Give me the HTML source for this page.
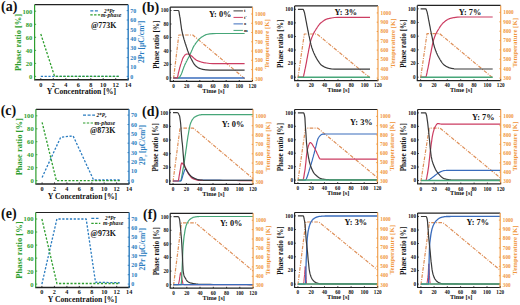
<!DOCTYPE html>
<html><head><meta charset="utf-8"><style>
html,body{margin:0;padding:0;background:#fff;width:520px;height:305px;overflow:hidden}
svg{display:block}
text{font-family:"Liberation Serif",serif;font-weight:bold}
</style></head><body>
<svg width="520" height="305" viewBox="0 0 520 305"><polyline points="40.8,76.4 118.8,76.4" fill="none" stroke="#2a7cc0" stroke-width="1.3" stroke-linejoin="round" stroke-dasharray="2.2,1.6"/>
<polyline points="40.8,34 54.6,76.4 118.8,76.4" fill="none" stroke="#2e9e2e" stroke-width="1.3" stroke-linejoin="round" stroke-dasharray="2.2,1.6"/>
<line x1="34.6" y1="4.7" x2="128.2" y2="4.7" stroke="#222" stroke-width="1.2"/>
<line x1="34.1" y1="79.7" x2="128.2" y2="79.7" stroke="#222" stroke-width="1.5"/>
<line x1="34.6" y1="4.7" x2="34.6" y2="79.7" stroke="#2e9e2e" stroke-width="1.2"/>
<line x1="128.2" y1="4.7" x2="128.2" y2="80.4" stroke="#2a7cc0" stroke-width="1.4"/>
<line x1="34.6" y1="76.4" x2="36.1" y2="76.4" stroke="#2e9e2e" stroke-width="0.9"/>
<text x="32.4" y="78.8" font-size="6.6" fill="#2e9e2e" text-anchor="end" style="font-family:'Liberation Serif',serif;font-weight:bold">0</text>
<line x1="34.6" y1="63.4" x2="36.1" y2="63.4" stroke="#2e9e2e" stroke-width="0.9"/>
<text x="32.4" y="65.8" font-size="6.6" fill="#2e9e2e" text-anchor="end" style="font-family:'Liberation Serif',serif;font-weight:bold">20</text>
<line x1="34.6" y1="50.4" x2="36.1" y2="50.4" stroke="#2e9e2e" stroke-width="0.9"/>
<text x="32.4" y="52.8" font-size="6.6" fill="#2e9e2e" text-anchor="end" style="font-family:'Liberation Serif',serif;font-weight:bold">40</text>
<line x1="34.6" y1="37.3" x2="36.1" y2="37.3" stroke="#2e9e2e" stroke-width="0.9"/>
<text x="32.4" y="39.7" font-size="6.6" fill="#2e9e2e" text-anchor="end" style="font-family:'Liberation Serif',serif;font-weight:bold">60</text>
<line x1="34.6" y1="24.3" x2="36.1" y2="24.3" stroke="#2e9e2e" stroke-width="0.9"/>
<text x="32.4" y="26.7" font-size="6.6" fill="#2e9e2e" text-anchor="end" style="font-family:'Liberation Serif',serif;font-weight:bold">80</text>
<line x1="34.6" y1="11.2" x2="36.1" y2="11.2" stroke="#2e9e2e" stroke-width="0.9"/>
<text x="32.4" y="13.6" font-size="6.6" fill="#2e9e2e" text-anchor="end" style="font-family:'Liberation Serif',serif;font-weight:bold">100</text>
<line x1="126.7" y1="76.4" x2="128.2" y2="76.4" stroke="#2a7cc0" stroke-width="0.9"/>
<text x="130.2" y="78.5" font-size="6" fill="#2a7cc0" text-anchor="start" style="font-family:'Liberation Serif',serif;font-weight:bold">0</text>
<line x1="126.7" y1="67" x2="128.2" y2="67" stroke="#2a7cc0" stroke-width="0.9"/>
<text x="130.2" y="69.1" font-size="6" fill="#2a7cc0" text-anchor="start" style="font-family:'Liberation Serif',serif;font-weight:bold">10</text>
<line x1="126.7" y1="57.6" x2="128.2" y2="57.6" stroke="#2a7cc0" stroke-width="0.9"/>
<text x="130.2" y="59.7" font-size="6" fill="#2a7cc0" text-anchor="start" style="font-family:'Liberation Serif',serif;font-weight:bold">20</text>
<line x1="126.7" y1="48.2" x2="128.2" y2="48.2" stroke="#2a7cc0" stroke-width="0.9"/>
<text x="130.2" y="50.3" font-size="6" fill="#2a7cc0" text-anchor="start" style="font-family:'Liberation Serif',serif;font-weight:bold">30</text>
<line x1="126.7" y1="38.8" x2="128.2" y2="38.8" stroke="#2a7cc0" stroke-width="0.9"/>
<text x="130.2" y="40.9" font-size="6" fill="#2a7cc0" text-anchor="start" style="font-family:'Liberation Serif',serif;font-weight:bold">40</text>
<line x1="126.7" y1="29.4" x2="128.2" y2="29.4" stroke="#2a7cc0" stroke-width="0.9"/>
<text x="130.2" y="31.5" font-size="6" fill="#2a7cc0" text-anchor="start" style="font-family:'Liberation Serif',serif;font-weight:bold">50</text>
<line x1="126.7" y1="20" x2="128.2" y2="20" stroke="#2a7cc0" stroke-width="0.9"/>
<text x="130.2" y="22.1" font-size="6" fill="#2a7cc0" text-anchor="start" style="font-family:'Liberation Serif',serif;font-weight:bold">60</text>
<line x1="126.7" y1="10.6" x2="128.2" y2="10.6" stroke="#2a7cc0" stroke-width="0.9"/>
<text x="130.2" y="12.7" font-size="6" fill="#2a7cc0" text-anchor="start" style="font-family:'Liberation Serif',serif;font-weight:bold">70</text>
<line x1="40.8" y1="79.7" x2="40.8" y2="78.2" stroke="#222" stroke-width="0.9"/>
<text x="40.8" y="86.5" font-size="6.2" fill="#111" text-anchor="middle" style="font-family:'Liberation Serif',serif;font-weight:bold">0</text>
<line x1="53.3" y1="79.7" x2="53.3" y2="78.2" stroke="#222" stroke-width="0.9"/>
<text x="53.3" y="86.5" font-size="6.2" fill="#111" text-anchor="middle" style="font-family:'Liberation Serif',serif;font-weight:bold">2</text>
<line x1="65.8" y1="79.7" x2="65.8" y2="78.2" stroke="#222" stroke-width="0.9"/>
<text x="65.8" y="86.5" font-size="6.2" fill="#111" text-anchor="middle" style="font-family:'Liberation Serif',serif;font-weight:bold">4</text>
<line x1="78.3" y1="79.7" x2="78.3" y2="78.2" stroke="#222" stroke-width="0.9"/>
<text x="78.3" y="86.5" font-size="6.2" fill="#111" text-anchor="middle" style="font-family:'Liberation Serif',serif;font-weight:bold">6</text>
<line x1="90.8" y1="79.7" x2="90.8" y2="78.2" stroke="#222" stroke-width="0.9"/>
<text x="90.8" y="86.5" font-size="6.2" fill="#111" text-anchor="middle" style="font-family:'Liberation Serif',serif;font-weight:bold">8</text>
<line x1="103.2" y1="79.7" x2="103.2" y2="78.2" stroke="#222" stroke-width="0.9"/>
<text x="103.2" y="86.5" font-size="6.2" fill="#111" text-anchor="middle" style="font-family:'Liberation Serif',serif;font-weight:bold">10</text>
<line x1="115.7" y1="79.7" x2="115.7" y2="78.2" stroke="#222" stroke-width="0.9"/>
<text x="115.7" y="86.5" font-size="6.2" fill="#111" text-anchor="middle" style="font-family:'Liberation Serif',serif;font-weight:bold">12</text>
<line x1="128.2" y1="79.7" x2="128.2" y2="78.2" stroke="#222" stroke-width="0.9"/>
<text x="128.2" y="86.5" font-size="6.2" fill="#111" text-anchor="middle" style="font-family:'Liberation Serif',serif;font-weight:bold">14</text>
<text x="21" y="42.4" font-size="8.5" fill="#2e9e2e" text-anchor="middle" transform="rotate(-90 21 42.4)" style="font-family:'Liberation Serif',serif;font-weight:bold">Phase ratio [%]</text>
<text x="143.8" y="41.9" font-size="7.6" fill="#2a7cc0" text-anchor="middle" transform="rotate(-90 143.8 41.9)" style="font-family:'Liberation Serif',serif;font-weight:bold">2Pr [&#956;C/cm<tspan font-size="4.4" dy="-3.2">2</tspan><tspan dy="3.2">]</tspan></text>
<text x="81.4" y="94.3" font-size="7.7" fill="#111" text-anchor="middle" style="font-family:'Liberation Serif',serif;font-weight:bold">Y Concentration [%]</text>
<text x="1" y="11" font-size="14" fill="#111" text-anchor="start" style="font-family:'Liberation Serif',serif;font-weight:bold">(a)</text>
<line x1="90.3" y1="10.9" x2="98.5" y2="10.9" stroke="#2a7cc0" stroke-width="1.2" stroke-dasharray="3,1.6"/>
<line x1="90.3" y1="14.9" x2="100.3" y2="14.9" stroke="#2e9e2e" stroke-width="1.2" stroke-dasharray="2.4,1.4"/>
<text x="104" y="12.7" font-size="5.3" fill="#111" style="font-family:'Liberation Serif',serif;font-weight:bold;font-style:italic">2*Pr</text>
<text x="101" y="16.5" font-size="5.8" fill="#111" style="font-family:'Liberation Serif',serif;font-weight:bold;font-style:italic">m-phase</text>
<text x="91" y="27.6" font-size="7.9" fill="#111" text-anchor="start" style="font-family:'Liberation Serif',serif;font-weight:bold">@773K</text>
<polyline points="42.1,177.4 60.7,137.2 73.1,135.9 93.6,180 119.7,180" fill="none" stroke="#2a7cc0" stroke-width="1.3" stroke-linejoin="round" stroke-dasharray="2.2,1.6"/>
<polyline points="42.1,122.3 56.4,180.7 119.7,180.7" fill="none" stroke="#2e9e2e" stroke-width="1.3" stroke-linejoin="round" stroke-dasharray="2.2,1.6"/>
<line x1="35.9" y1="109.3" x2="129" y2="109.3" stroke="#222" stroke-width="1.2"/>
<line x1="35.4" y1="183.9" x2="129" y2="183.9" stroke="#222" stroke-width="1.5"/>
<line x1="35.9" y1="109.3" x2="35.9" y2="183.9" stroke="#2e9e2e" stroke-width="1.2"/>
<line x1="129" y1="109.3" x2="129" y2="184.6" stroke="#2a7cc0" stroke-width="1.4"/>
<line x1="35.9" y1="180.7" x2="37.4" y2="180.7" stroke="#2e9e2e" stroke-width="0.9"/>
<text x="33.7" y="183.1" font-size="6.6" fill="#2e9e2e" text-anchor="end" style="font-family:'Liberation Serif',serif;font-weight:bold">0</text>
<line x1="35.9" y1="167.7" x2="37.4" y2="167.7" stroke="#2e9e2e" stroke-width="0.9"/>
<text x="33.7" y="170.1" font-size="6.6" fill="#2e9e2e" text-anchor="end" style="font-family:'Liberation Serif',serif;font-weight:bold">20</text>
<line x1="35.9" y1="154.7" x2="37.4" y2="154.7" stroke="#2e9e2e" stroke-width="0.9"/>
<text x="33.7" y="157.1" font-size="6.6" fill="#2e9e2e" text-anchor="end" style="font-family:'Liberation Serif',serif;font-weight:bold">40</text>
<line x1="35.9" y1="141.7" x2="37.4" y2="141.7" stroke="#2e9e2e" stroke-width="0.9"/>
<text x="33.7" y="144.1" font-size="6.6" fill="#2e9e2e" text-anchor="end" style="font-family:'Liberation Serif',serif;font-weight:bold">60</text>
<line x1="35.9" y1="128.8" x2="37.4" y2="128.8" stroke="#2e9e2e" stroke-width="0.9"/>
<text x="33.7" y="131.2" font-size="6.6" fill="#2e9e2e" text-anchor="end" style="font-family:'Liberation Serif',serif;font-weight:bold">80</text>
<line x1="35.9" y1="115.8" x2="37.4" y2="115.8" stroke="#2e9e2e" stroke-width="0.9"/>
<text x="33.7" y="118.2" font-size="6.6" fill="#2e9e2e" text-anchor="end" style="font-family:'Liberation Serif',serif;font-weight:bold">100</text>
<line x1="127.5" y1="180.7" x2="129" y2="180.7" stroke="#2a7cc0" stroke-width="0.9"/>
<text x="131" y="182.8" font-size="6" fill="#2a7cc0" text-anchor="start" style="font-family:'Liberation Serif',serif;font-weight:bold">0</text>
<line x1="127.5" y1="171.3" x2="129" y2="171.3" stroke="#2a7cc0" stroke-width="0.9"/>
<text x="131" y="173.4" font-size="6" fill="#2a7cc0" text-anchor="start" style="font-family:'Liberation Serif',serif;font-weight:bold">10</text>
<line x1="127.5" y1="161.9" x2="129" y2="161.9" stroke="#2a7cc0" stroke-width="0.9"/>
<text x="131" y="164" font-size="6" fill="#2a7cc0" text-anchor="start" style="font-family:'Liberation Serif',serif;font-weight:bold">20</text>
<line x1="127.5" y1="152.6" x2="129" y2="152.6" stroke="#2a7cc0" stroke-width="0.9"/>
<text x="131" y="154.7" font-size="6" fill="#2a7cc0" text-anchor="start" style="font-family:'Liberation Serif',serif;font-weight:bold">30</text>
<line x1="127.5" y1="143.2" x2="129" y2="143.2" stroke="#2a7cc0" stroke-width="0.9"/>
<text x="131" y="145.3" font-size="6" fill="#2a7cc0" text-anchor="start" style="font-family:'Liberation Serif',serif;font-weight:bold">40</text>
<line x1="127.5" y1="133.9" x2="129" y2="133.9" stroke="#2a7cc0" stroke-width="0.9"/>
<text x="131" y="136" font-size="6" fill="#2a7cc0" text-anchor="start" style="font-family:'Liberation Serif',serif;font-weight:bold">50</text>
<line x1="127.5" y1="124.5" x2="129" y2="124.5" stroke="#2a7cc0" stroke-width="0.9"/>
<text x="131" y="126.6" font-size="6" fill="#2a7cc0" text-anchor="start" style="font-family:'Liberation Serif',serif;font-weight:bold">60</text>
<line x1="127.5" y1="115.1" x2="129" y2="115.1" stroke="#2a7cc0" stroke-width="0.9"/>
<text x="131" y="117.2" font-size="6" fill="#2a7cc0" text-anchor="start" style="font-family:'Liberation Serif',serif;font-weight:bold">70</text>
<line x1="42.1" y1="183.9" x2="42.1" y2="182.4" stroke="#222" stroke-width="0.9"/>
<text x="42.1" y="190.7" font-size="6.2" fill="#111" text-anchor="middle" style="font-family:'Liberation Serif',serif;font-weight:bold">0</text>
<line x1="54.5" y1="183.9" x2="54.5" y2="182.4" stroke="#222" stroke-width="0.9"/>
<text x="54.5" y="190.7" font-size="6.2" fill="#111" text-anchor="middle" style="font-family:'Liberation Serif',serif;font-weight:bold">2</text>
<line x1="66.9" y1="183.9" x2="66.9" y2="182.4" stroke="#222" stroke-width="0.9"/>
<text x="66.9" y="190.7" font-size="6.2" fill="#111" text-anchor="middle" style="font-family:'Liberation Serif',serif;font-weight:bold">4</text>
<line x1="79.3" y1="183.9" x2="79.3" y2="182.4" stroke="#222" stroke-width="0.9"/>
<text x="79.3" y="190.7" font-size="6.2" fill="#111" text-anchor="middle" style="font-family:'Liberation Serif',serif;font-weight:bold">6</text>
<line x1="91.8" y1="183.9" x2="91.8" y2="182.4" stroke="#222" stroke-width="0.9"/>
<text x="91.8" y="190.7" font-size="6.2" fill="#111" text-anchor="middle" style="font-family:'Liberation Serif',serif;font-weight:bold">8</text>
<line x1="104.2" y1="183.9" x2="104.2" y2="182.4" stroke="#222" stroke-width="0.9"/>
<text x="104.2" y="190.7" font-size="6.2" fill="#111" text-anchor="middle" style="font-family:'Liberation Serif',serif;font-weight:bold">10</text>
<line x1="116.6" y1="183.9" x2="116.6" y2="182.4" stroke="#222" stroke-width="0.9"/>
<text x="116.6" y="190.7" font-size="6.2" fill="#111" text-anchor="middle" style="font-family:'Liberation Serif',serif;font-weight:bold">12</text>
<line x1="129" y1="183.9" x2="129" y2="182.4" stroke="#222" stroke-width="0.9"/>
<text x="129" y="190.7" font-size="6.2" fill="#111" text-anchor="middle" style="font-family:'Liberation Serif',serif;font-weight:bold">14</text>
<text x="22.3" y="146.8" font-size="8.5" fill="#2e9e2e" text-anchor="middle" transform="rotate(-90 22.3 146.8)" style="font-family:'Liberation Serif',serif;font-weight:bold">Phase ratio [%]</text>
<text x="145.4" y="145" font-size="7.3" fill="#2a7cc0" text-anchor="middle" transform="rotate(-90 145.4 145)" style="font-family:'Liberation Serif',serif;font-weight:bold">2P<tspan font-size="4.6" dy="1.2">r</tspan><tspan dy="-1.2"> [&#956;C/cm</tspan><tspan font-size="4.4" dy="-3.2">2</tspan><tspan dy="3.2">]</tspan></text>
<text x="82.5" y="198.5" font-size="7.7" fill="#111" text-anchor="middle" style="font-family:'Liberation Serif',serif;font-weight:bold">Y Concentration [%]</text>
<text x="0.7" y="115.4" font-size="14" fill="#111" text-anchor="start" style="font-family:'Liberation Serif',serif;font-weight:bold">(c)</text>
<line x1="83" y1="115.1" x2="95" y2="115.1" stroke="#2a7cc0" stroke-width="1.2" stroke-dasharray="3,1.6"/>
<line x1="83" y1="123" x2="95.5" y2="123" stroke="#2e9e2e" stroke-width="1.2" stroke-dasharray="2.4,1.4"/>
<text x="96.4" y="116.9" font-size="5.3" fill="#111" style="font-family:'Liberation Serif',serif;font-weight:bold;font-style:italic">2*P<tspan font-size="3.6" dy="1">r</tspan></text>
<text x="94.8" y="124.6" font-size="5.8" fill="#111" style="font-family:'Liberation Serif',serif;font-weight:bold;font-style:italic">m-phase</text>
<text x="90" y="133.1" font-size="7.9" fill="#111" text-anchor="start" style="font-family:'Liberation Serif',serif;font-weight:bold">@873K</text>
<polyline points="41.9,284.1 56.9,219 86.2,219 95.5,282.2 119.8,282.8" fill="none" stroke="#2a7cc0" stroke-width="1.3" stroke-linejoin="round" stroke-dasharray="2.2,1.6"/>
<polyline points="41.9,219 56.9,283.5 119.8,283.5" fill="none" stroke="#2e9e2e" stroke-width="1.3" stroke-linejoin="round" stroke-dasharray="2.2,1.6"/>
<line x1="35.7" y1="212.5" x2="129.2" y2="212.5" stroke="#222" stroke-width="1.2"/>
<line x1="35.2" y1="287.4" x2="129.2" y2="287.4" stroke="#222" stroke-width="1.5"/>
<line x1="35.7" y1="212.5" x2="35.7" y2="287.4" stroke="#2e9e2e" stroke-width="1.2"/>
<line x1="129.2" y1="212.5" x2="129.2" y2="288.1" stroke="#2a7cc0" stroke-width="1.4"/>
<line x1="35.7" y1="284.1" x2="37.2" y2="284.1" stroke="#2e9e2e" stroke-width="0.9"/>
<text x="33.5" y="286.5" font-size="6.6" fill="#2e9e2e" text-anchor="end" style="font-family:'Liberation Serif',serif;font-weight:bold">0</text>
<line x1="35.7" y1="271.1" x2="37.2" y2="271.1" stroke="#2e9e2e" stroke-width="0.9"/>
<text x="33.5" y="273.5" font-size="6.6" fill="#2e9e2e" text-anchor="end" style="font-family:'Liberation Serif',serif;font-weight:bold">20</text>
<line x1="35.7" y1="258.1" x2="37.2" y2="258.1" stroke="#2e9e2e" stroke-width="0.9"/>
<text x="33.5" y="260.5" font-size="6.6" fill="#2e9e2e" text-anchor="end" style="font-family:'Liberation Serif',serif;font-weight:bold">40</text>
<line x1="35.7" y1="245.1" x2="37.2" y2="245.1" stroke="#2e9e2e" stroke-width="0.9"/>
<text x="33.5" y="247.5" font-size="6.6" fill="#2e9e2e" text-anchor="end" style="font-family:'Liberation Serif',serif;font-weight:bold">60</text>
<line x1="35.7" y1="232" x2="37.2" y2="232" stroke="#2e9e2e" stroke-width="0.9"/>
<text x="33.5" y="234.4" font-size="6.6" fill="#2e9e2e" text-anchor="end" style="font-family:'Liberation Serif',serif;font-weight:bold">80</text>
<line x1="35.7" y1="219" x2="37.2" y2="219" stroke="#2e9e2e" stroke-width="0.9"/>
<text x="33.5" y="221.4" font-size="6.6" fill="#2e9e2e" text-anchor="end" style="font-family:'Liberation Serif',serif;font-weight:bold">100</text>
<line x1="127.7" y1="284.1" x2="129.2" y2="284.1" stroke="#2a7cc0" stroke-width="0.9"/>
<text x="131.2" y="286.2" font-size="6" fill="#2a7cc0" text-anchor="start" style="font-family:'Liberation Serif',serif;font-weight:bold">0</text>
<line x1="127.7" y1="274.7" x2="129.2" y2="274.7" stroke="#2a7cc0" stroke-width="0.9"/>
<text x="131.2" y="276.8" font-size="6" fill="#2a7cc0" text-anchor="start" style="font-family:'Liberation Serif',serif;font-weight:bold">10</text>
<line x1="127.7" y1="265.3" x2="129.2" y2="265.3" stroke="#2a7cc0" stroke-width="0.9"/>
<text x="131.2" y="267.4" font-size="6" fill="#2a7cc0" text-anchor="start" style="font-family:'Liberation Serif',serif;font-weight:bold">20</text>
<line x1="127.7" y1="256" x2="129.2" y2="256" stroke="#2a7cc0" stroke-width="0.9"/>
<text x="131.2" y="258.1" font-size="6" fill="#2a7cc0" text-anchor="start" style="font-family:'Liberation Serif',serif;font-weight:bold">30</text>
<line x1="127.7" y1="246.6" x2="129.2" y2="246.6" stroke="#2a7cc0" stroke-width="0.9"/>
<text x="131.2" y="248.7" font-size="6" fill="#2a7cc0" text-anchor="start" style="font-family:'Liberation Serif',serif;font-weight:bold">40</text>
<line x1="127.7" y1="237.2" x2="129.2" y2="237.2" stroke="#2a7cc0" stroke-width="0.9"/>
<text x="131.2" y="239.3" font-size="6" fill="#2a7cc0" text-anchor="start" style="font-family:'Liberation Serif',serif;font-weight:bold">50</text>
<line x1="127.7" y1="227.8" x2="129.2" y2="227.8" stroke="#2a7cc0" stroke-width="0.9"/>
<text x="131.2" y="229.9" font-size="6" fill="#2a7cc0" text-anchor="start" style="font-family:'Liberation Serif',serif;font-weight:bold">60</text>
<line x1="127.7" y1="218.4" x2="129.2" y2="218.4" stroke="#2a7cc0" stroke-width="0.9"/>
<text x="131.2" y="220.5" font-size="6" fill="#2a7cc0" text-anchor="start" style="font-family:'Liberation Serif',serif;font-weight:bold">70</text>
<line x1="41.9" y1="287.4" x2="41.9" y2="285.9" stroke="#222" stroke-width="0.9"/>
<text x="41.9" y="294.2" font-size="6.2" fill="#111" text-anchor="middle" style="font-family:'Liberation Serif',serif;font-weight:bold">0</text>
<line x1="54.4" y1="287.4" x2="54.4" y2="285.9" stroke="#222" stroke-width="0.9"/>
<text x="54.4" y="294.2" font-size="6.2" fill="#111" text-anchor="middle" style="font-family:'Liberation Serif',serif;font-weight:bold">2</text>
<line x1="66.9" y1="287.4" x2="66.9" y2="285.9" stroke="#222" stroke-width="0.9"/>
<text x="66.9" y="294.2" font-size="6.2" fill="#111" text-anchor="middle" style="font-family:'Liberation Serif',serif;font-weight:bold">4</text>
<line x1="79.3" y1="287.4" x2="79.3" y2="285.9" stroke="#222" stroke-width="0.9"/>
<text x="79.3" y="294.2" font-size="6.2" fill="#111" text-anchor="middle" style="font-family:'Liberation Serif',serif;font-weight:bold">6</text>
<line x1="91.8" y1="287.4" x2="91.8" y2="285.9" stroke="#222" stroke-width="0.9"/>
<text x="91.8" y="294.2" font-size="6.2" fill="#111" text-anchor="middle" style="font-family:'Liberation Serif',serif;font-weight:bold">8</text>
<line x1="104.3" y1="287.4" x2="104.3" y2="285.9" stroke="#222" stroke-width="0.9"/>
<text x="104.3" y="294.2" font-size="6.2" fill="#111" text-anchor="middle" style="font-family:'Liberation Serif',serif;font-weight:bold">10</text>
<line x1="116.7" y1="287.4" x2="116.7" y2="285.9" stroke="#222" stroke-width="0.9"/>
<text x="116.7" y="294.2" font-size="6.2" fill="#111" text-anchor="middle" style="font-family:'Liberation Serif',serif;font-weight:bold">12</text>
<line x1="129.2" y1="287.4" x2="129.2" y2="285.9" stroke="#222" stroke-width="0.9"/>
<text x="129.2" y="294.2" font-size="6.2" fill="#111" text-anchor="middle" style="font-family:'Liberation Serif',serif;font-weight:bold">14</text>
<text x="22.1" y="250.1" font-size="8.5" fill="#2e9e2e" text-anchor="middle" transform="rotate(-90 22.1 250.1)" style="font-family:'Liberation Serif',serif;font-weight:bold">Phase ratio [%]</text>
<text x="145.1" y="249.2" font-size="7.6" fill="#2a7cc0" text-anchor="middle" transform="rotate(-90 145.1 249.2)" style="font-family:'Liberation Serif',serif;font-weight:bold">2Pr [&#956;C/cm<tspan font-size="4.4" dy="-3.2">2</tspan><tspan dy="3.2">]</tspan></text>
<text x="82.4" y="302" font-size="7.7" fill="#111" text-anchor="middle" style="font-family:'Liberation Serif',serif;font-weight:bold">Y Concentration [%]</text>
<text x="1" y="218.4" font-size="14" fill="#111" text-anchor="start" style="font-family:'Liberation Serif',serif;font-weight:bold">(e)</text>
<line x1="91.3" y1="218.3" x2="98.5" y2="218.3" stroke="#2a7cc0" stroke-width="1.2" stroke-dasharray="3,1.6"/>
<line x1="91.3" y1="223.3" x2="100.3" y2="223.3" stroke="#2e9e2e" stroke-width="1.2" stroke-dasharray="2.4,1.4"/>
<text x="105" y="220.1" font-size="5.3" fill="#111" style="font-family:'Liberation Serif',serif;font-weight:bold;font-style:italic">2*Pr</text>
<text x="103" y="224.9" font-size="5.8" fill="#111" style="font-family:'Liberation Serif',serif;font-weight:bold;font-style:italic">m-phase</text>
<text x="90.6" y="236" font-size="7.9" fill="#111" text-anchor="start" style="font-family:'Liberation Serif',serif;font-weight:bold">@973K</text>
<polyline points="173.5,78.8 178.8,35 192.8,35 244.9,78.8" fill="none" stroke="#de8f58" stroke-width="1.2" stroke-linejoin="round" stroke-dasharray="3.6,1.3,1,1.3"/>
<polyline points="173.5,77.9 173.8,77.9 174.2,77.9 174.5,77.9 174.8,77.9 175.1,77.9 175.5,77.9 175.8,77.9 176.1,77.9 176.5,77.9 176.8,77.9 177.1,77.9 177.4,77.9 177.8,77.9 178.1,77.9 178.4,77.9 178.8,77.9 179.1,77.9 179.4,77.9 179.7,77.9 180.1,77.9 180.4,77.9 180.7,77.9 181.1,77.9 181.4,77.9 181.7,77.9 182.1,77.9 182.4,77.9 182.7,77.9 183,77.9 183.4,77.9 183.7,77.9 184,77.9 184.4,77.9 184.7,77.9 185,77.9 185.3,77.9 185.7,77.9 186,77.9 186.3,77.9 186.7,77.9 187,77.9 187.3,77.9 187.6,77.9 188,77.9 188.3,77.9 188.6,77.9 189,77.9 189.3,77.9 189.6,77.9 190,77.9 190.3,77.9 190.6,77.9 190.9,77.9 191.3,77.9 191.6,77.9 191.9,77.9 192.3,77.9 192.6,77.9 192.9,77.9 193.2,77.9 193.6,77.9 193.9,77.9 194.2,77.9 194.6,77.9 194.9,77.9 195.2,77.9 195.5,77.9 195.9,77.9 196.2,77.9 196.5,77.9 196.9,77.9 197.2,77.9 197.5,77.9 197.9,77.9 198.2,77.9 198.5,77.9 198.8,77.9 199.2,77.9 199.5,77.9 199.8,77.9 200.2,77.9 200.5,77.9 200.8,77.9 201.1,77.9 201.5,77.9 201.8,77.9 202.1,77.9 202.5,77.9 202.8,77.9 203.1,77.9 203.4,77.9 203.8,77.9 204.1,77.9 204.4,77.9 204.8,77.9 205.1,77.9 205.4,77.9 205.8,77.9 206.1,77.9 206.4,77.9 209.7,77.9 213,77.9 216.3,77.9 219.6,77.9 222.9,77.9 226.2,77.9 229.5,77.9 232.7,77.9 236,77.9 239.3,77.9 242.6,77.9 244.6,77.9" fill="none" stroke="#3a6cbc" stroke-width="1.5" stroke-linejoin="round"/>
<polyline points="173.5,77.9 173.8,77.9 174.2,77.9 174.5,77.9 174.8,77.9 175.1,77.9 175.5,77.9 175.8,77.9 176.1,77.9 176.5,77.9 176.8,77.9 177.1,77.9 177.4,77.9 177.8,77.9 178.1,77.9 178.4,77.9 178.8,77.9 179.1,77.8 179.4,77.5 179.7,77 180.1,76.4 180.4,75.8 180.7,75.3 181.1,74.6 181.4,73.9 181.7,73.1 182.1,72.2 182.4,71.3 182.7,70.4 183,69.5 183.4,68.5 183.7,67.6 184,66.7 184.4,65.9 184.7,65.1 185,64.4 185.3,63.7 185.7,63 186,62.4 186.3,61.7 186.7,61.1 187,60.5 187.3,59.8 187.6,59.2 188,58.6 188.3,58 188.6,57.4 189,56.7 189.3,56.1 189.6,55.4 190,54.7 190.3,54 190.6,53.2 190.9,52.5 191.3,51.7 191.6,50.9 191.9,50.2 192.3,49.4 192.6,48.7 192.9,48 193.2,47.3 193.6,46.7 193.9,46.1 194.2,45.5 194.6,45 194.9,44.6 195.2,44.1 195.5,43.6 195.9,43.1 196.2,42.7 196.5,42.2 196.9,41.8 197.2,41.4 197.5,41 197.9,40.6 198.2,40.2 198.5,39.8 198.8,39.5 199.2,39.1 199.5,38.8 199.8,38.5 200.2,38.2 200.5,37.9 200.8,37.7 201.1,37.4 201.5,37.2 201.8,37 202.1,36.8 202.5,36.6 202.8,36.4 203.1,36.2 203.4,36 203.8,35.8 204.1,35.6 204.4,35.4 204.8,35.2 205.1,35.1 205.4,34.9 205.8,34.8 206.1,34.6 206.4,34.5 209.7,33.8 213,33.6 216.3,33.5 219.6,33.5 222.9,33.5 226.2,33.5 229.5,33.5 232.7,33.5 236,33.5 239.3,33.5 242.6,33.5 244.6,33.5" fill="none" stroke="#46a678" stroke-width="1.2" stroke-linejoin="round"/>
<polyline points="173.5,77.9 173.8,77.9 174.2,77.9 174.5,77.9 174.8,77.9 175.1,77.9 175.5,77.9 175.8,77.9 176.1,77.9 176.5,77.9 176.8,77.9 177.1,77.9 177.4,77.7 177.8,76.3 178.1,74.5 178.4,72.9 178.8,71.6 179.1,70.3 179.4,69.1 179.7,67.8 180.1,66.6 180.4,65.5 180.7,64.4 181.1,63.4 181.4,62.4 181.7,61.3 182.1,60.4 182.4,59.4 182.7,58.6 183,57.9 183.4,57.2 183.7,56.7 184,56.2 184.4,55.8 184.7,55.4 185,55 185.3,54.7 185.7,54.5 186,54.3 186.3,54.2 186.7,54.1 187,54.1 187.3,54 187.6,54 188,54 188.3,54 188.6,54.1 189,54.3 189.3,54.5 189.6,54.7 190,54.9 190.3,55.1 190.6,55.3 190.9,55.5 191.3,55.8 191.6,56 191.9,56.3 192.3,56.6 192.6,56.9 192.9,57.2 193.2,57.5 193.6,57.8 193.9,58.1 194.2,58.4 194.6,58.7 194.9,59 195.2,59.3 195.5,59.5 195.9,59.8 196.2,60 196.5,60.2 196.9,60.4 197.2,60.5 197.5,60.7 197.9,60.8 198.2,60.9 198.5,61.1 198.8,61.2 199.2,61.3 199.5,61.4 199.8,61.6 200.2,61.7 200.5,61.8 200.8,61.9 201.1,62 201.5,62.1 201.8,62.2 202.1,62.3 202.5,62.4 202.8,62.4 203.1,62.5 203.4,62.6 203.8,62.6 204.1,62.7 204.4,62.8 204.8,62.8 205.1,62.9 205.4,62.9 205.8,63 206.1,63 206.4,63 209.7,63.5 213,63.6 216.3,63.6 219.6,63.7 222.9,63.7 226.2,63.7 229.5,63.7 232.7,63.7 236,63.7 239.3,63.7 242.6,63.7 244.6,63.7" fill="none" stroke="#cc3d62" stroke-width="1.2" stroke-linejoin="round"/>
<polyline points="173.5,10.5 173.8,10.5 174.2,10.5 174.5,10.5 174.8,10.5 175.1,10.5 175.5,10.5 175.8,10.5 176.1,10.5 176.5,10.5 176.8,10.5 177.1,10.5 177.4,10.5 177.8,10.5 178.1,10.5 178.4,10.5 178.8,11 179.1,12.4 179.4,14.3 179.7,16.2 180.1,18.1 180.4,20.4 180.7,23 181.1,25.6 181.4,28 181.7,30 182.1,31.6 182.4,33.1 182.7,34.5 183,35.8 183.4,37 183.7,38.2 184,39.4 184.4,40.4 184.7,41.5 185,42.5 185.3,43.5 185.7,44.5 186,45.5 186.3,46.6 186.7,47.6 187,48.5 187.3,49.5 187.6,50.5 188,51.4 188.3,52.3 188.6,53.1 189,54 189.3,54.7 189.6,55.5 190,56.2 190.3,56.9 190.6,57.6 190.9,58.2 191.3,58.9 191.6,59.6 191.9,60.2 192.3,60.8 192.6,61.4 192.9,62 193.2,62.6 193.6,63.1 193.9,63.6 194.2,64.1 194.6,64.5 194.9,65 195.2,65.3 195.5,65.7 195.9,66 196.2,66.3 196.5,66.5 196.9,66.8 197.2,67 197.5,67.3 197.9,67.5 198.2,67.7 198.5,67.9 198.8,68.1 199.2,68.2 199.5,68.4 199.8,68.5 200.2,68.6 200.5,68.7 200.8,68.8 201.1,68.9 201.5,69 201.8,69.1 202.1,69.2 202.5,69.3 202.8,69.4 203.1,69.4 203.4,69.5 203.8,69.6 204.1,69.6 204.4,69.7 204.8,69.7 205.1,69.7 205.4,69.8 205.8,69.8 206.1,69.8 206.4,69.8 209.7,70.1 213,70.2 216.3,70.2 219.6,70.2 222.9,70.2 226.2,70.2 229.5,70.2 232.7,70.2 236,70.2 239.3,70.2 242.6,70.2 244.6,70.2" fill="none" stroke="#3a3a3a" stroke-width="1.2" stroke-linejoin="round"/>
<line x1="170.2" y1="7.1" x2="252.5" y2="7.1" stroke="#222" stroke-width="1.2"/>
<line x1="169.7" y1="81.3" x2="252.5" y2="81.3" stroke="#222" stroke-width="1.2"/>
<line x1="170.2" y1="7.1" x2="170.2" y2="81.3" stroke="#222" stroke-width="1.2"/>
<line x1="252.5" y1="7.1" x2="252.5" y2="82" stroke="#f0a050" stroke-width="1.2"/>
<line x1="170.2" y1="77.9" x2="171.5" y2="77.9" stroke="#222" stroke-width="0.9"/>
<text x="168.6" y="79.7" font-size="5.2" fill="#111" text-anchor="end" style="font-family:'Liberation Serif',serif;font-weight:bold">0</text>
<line x1="170.2" y1="64.4" x2="171.5" y2="64.4" stroke="#222" stroke-width="0.9"/>
<text x="168.6" y="66.2" font-size="5.2" fill="#111" text-anchor="end" style="font-family:'Liberation Serif',serif;font-weight:bold">20</text>
<line x1="170.2" y1="50.9" x2="171.5" y2="50.9" stroke="#222" stroke-width="0.9"/>
<text x="168.6" y="52.7" font-size="5.2" fill="#111" text-anchor="end" style="font-family:'Liberation Serif',serif;font-weight:bold">40</text>
<line x1="170.2" y1="37.5" x2="171.5" y2="37.5" stroke="#222" stroke-width="0.9"/>
<text x="168.6" y="39.3" font-size="5.2" fill="#111" text-anchor="end" style="font-family:'Liberation Serif',serif;font-weight:bold">60</text>
<line x1="170.2" y1="24" x2="171.5" y2="24" stroke="#222" stroke-width="0.9"/>
<text x="168.6" y="25.8" font-size="5.2" fill="#111" text-anchor="end" style="font-family:'Liberation Serif',serif;font-weight:bold">80</text>
<line x1="170.2" y1="10.5" x2="171.5" y2="10.5" stroke="#222" stroke-width="0.9"/>
<text x="168.6" y="12.3" font-size="5.2" fill="#111" text-anchor="end" style="font-family:'Liberation Serif',serif;font-weight:bold">100</text>
<line x1="251.2" y1="78.8" x2="252.5" y2="78.8" stroke="#f0953a" stroke-width="0.9"/>
<text x="255.1" y="80.6" font-size="5.2" fill="#f0953a" text-anchor="start" style="font-family:'Liberation Serif',serif;font-weight:bold">300</text>
<line x1="251.2" y1="69.6" x2="252.5" y2="69.6" stroke="#f0953a" stroke-width="0.9"/>
<text x="255.1" y="71.4" font-size="5.2" fill="#f0953a" text-anchor="start" style="font-family:'Liberation Serif',serif;font-weight:bold">400</text>
<line x1="251.2" y1="60.3" x2="252.5" y2="60.3" stroke="#f0953a" stroke-width="0.9"/>
<text x="255.1" y="62.1" font-size="5.2" fill="#f0953a" text-anchor="start" style="font-family:'Liberation Serif',serif;font-weight:bold">500</text>
<line x1="251.2" y1="51.1" x2="252.5" y2="51.1" stroke="#f0953a" stroke-width="0.9"/>
<text x="255.1" y="52.9" font-size="5.2" fill="#f0953a" text-anchor="start" style="font-family:'Liberation Serif',serif;font-weight:bold">600</text>
<line x1="251.2" y1="41.8" x2="252.5" y2="41.8" stroke="#f0953a" stroke-width="0.9"/>
<text x="255.1" y="43.6" font-size="5.2" fill="#f0953a" text-anchor="start" style="font-family:'Liberation Serif',serif;font-weight:bold">700</text>
<line x1="251.2" y1="32.5" x2="252.5" y2="32.5" stroke="#f0953a" stroke-width="0.9"/>
<text x="255.1" y="34.3" font-size="5.2" fill="#f0953a" text-anchor="start" style="font-family:'Liberation Serif',serif;font-weight:bold">800</text>
<line x1="251.2" y1="23.3" x2="252.5" y2="23.3" stroke="#f0953a" stroke-width="0.9"/>
<text x="255.1" y="25.1" font-size="5.2" fill="#f0953a" text-anchor="start" style="font-family:'Liberation Serif',serif;font-weight:bold">900</text>
<line x1="251.2" y1="14" x2="252.5" y2="14" stroke="#f0953a" stroke-width="0.9"/>
<text x="255.1" y="15.8" font-size="5.2" fill="#f0953a" text-anchor="start" style="font-family:'Liberation Serif',serif;font-weight:bold">1000</text>
<line x1="173.5" y1="81.3" x2="173.5" y2="80" stroke="#222" stroke-width="0.9"/>
<text x="173.5" y="87.9" font-size="5.2" fill="#111" text-anchor="middle" style="font-family:'Liberation Serif',serif;font-weight:bold">0</text>
<line x1="186.7" y1="81.3" x2="186.7" y2="80" stroke="#222" stroke-width="0.9"/>
<text x="186.7" y="87.9" font-size="5.2" fill="#111" text-anchor="middle" style="font-family:'Liberation Serif',serif;font-weight:bold">20</text>
<line x1="199.8" y1="81.3" x2="199.8" y2="80" stroke="#222" stroke-width="0.9"/>
<text x="199.8" y="87.9" font-size="5.2" fill="#111" text-anchor="middle" style="font-family:'Liberation Serif',serif;font-weight:bold">40</text>
<line x1="213" y1="81.3" x2="213" y2="80" stroke="#222" stroke-width="0.9"/>
<text x="213" y="87.9" font-size="5.2" fill="#111" text-anchor="middle" style="font-family:'Liberation Serif',serif;font-weight:bold">60</text>
<line x1="226.2" y1="81.3" x2="226.2" y2="80" stroke="#222" stroke-width="0.9"/>
<text x="226.2" y="87.9" font-size="5.2" fill="#111" text-anchor="middle" style="font-family:'Liberation Serif',serif;font-weight:bold">80</text>
<line x1="239.3" y1="81.3" x2="239.3" y2="80" stroke="#222" stroke-width="0.9"/>
<text x="239.3" y="87.9" font-size="5.2" fill="#111" text-anchor="middle" style="font-family:'Liberation Serif',serif;font-weight:bold">100</text>
<line x1="252.5" y1="81.3" x2="252.5" y2="80" stroke="#222" stroke-width="0.9"/>
<text x="252.5" y="87.9" font-size="5.2" fill="#111" text-anchor="middle" style="font-family:'Liberation Serif',serif;font-weight:bold">120</text>
<text x="159" y="44.7" font-size="7.2" fill="#111" text-anchor="middle" transform="rotate(-90 159 44.7)" style="font-family:'Liberation Serif',serif;font-weight:bold">Phase ratio [%]</text>
<text x="269.3" y="43.9" font-size="6.8" fill="#f0953a" text-anchor="middle" transform="rotate(-90 269.3 43.9)" style="font-family:'Liberation Serif',serif;font-weight:bold">Temperature [K]</text>
<text x="213.5" y="92.8" font-size="6.4" fill="#111" text-anchor="middle" style="font-family:'Liberation Serif',serif;font-weight:bold">Time [s]</text>
<text x="208.9" y="16.5" font-size="8.3" fill="#111" text-anchor="start" style="font-family:'Liberation Serif',serif;font-weight:bold">Y: 0%</text>
<line x1="233.5" y1="10.9" x2="242.9" y2="10.9" stroke="#3a3a3a" stroke-width="1"/>
<text x="244.1" y="12.4" font-size="4.4" fill="#111" style="font-family:'Liberation Serif',serif;font-weight:bold">t</text>
<line x1="233.5" y1="17.4" x2="242.9" y2="17.4" stroke="#cc3d62" stroke-width="1"/>
<text x="244.1" y="18.9" font-size="4.4" fill="#111" style="font-family:'Liberation Serif',serif;font-weight:bold">t'</text>
<line x1="233.5" y1="23.9" x2="242.9" y2="23.9" stroke="#3a6cbc" stroke-width="1"/>
<text x="244.1" y="25.4" font-size="4.4" fill="#111" style="font-family:'Liberation Serif',serif;font-weight:bold">o</text>
<line x1="233.5" y1="30.4" x2="242.9" y2="30.4" stroke="#46a678" stroke-width="1"/>
<text x="244.1" y="31.9" font-size="4.4" fill="#111" style="font-family:'Liberation Serif',serif;font-weight:bold">m</text>
<polyline points="297.9,78.1 304.3,34 317,34 370.3,78.1" fill="none" stroke="#de8f58" stroke-width="1.2" stroke-linejoin="round" stroke-dasharray="3.6,1.3,1,1.3"/>
<polyline points="297.9,77.2 298.3,77.2 298.6,77.2 298.9,77.2 299.3,77.2 299.6,77.2 299.9,77.2 300.3,77.2 300.6,77.2 300.9,77.2 301.3,77.2 301.6,77.2 301.9,77.2 302.3,77.2 302.6,77.2 302.9,77.2 303.3,76.9 303.6,75.9 303.9,74.5 304.3,72.9 304.6,71.3 304.9,69.7 305.3,68.2 305.6,66.6 305.9,64.9 306.3,63.1 306.6,61.3 306.9,59.4 307.3,57.6 307.6,55.8 307.9,54.1 308.3,52.4 308.6,50.7 308.9,49 309.3,47.3 309.6,45.6 309.9,44 310.3,42.6 310.6,41.2 310.9,40.1 311.3,39.1 311.6,38.1 311.9,37.2 312.3,36.4 312.6,35.6 312.9,34.9 313.3,34.2 313.6,33.5 313.9,32.8 314.3,32.2 314.6,31.6 314.9,31 315.3,30.5 315.6,29.9 316,29.3 316.3,28.8 316.6,28.3 317,27.8 317.3,27.2 317.6,26.7 318,26.3 318.3,25.8 318.6,25.4 319,24.9 319.3,24.5 319.6,24.1 320,23.8 320.3,23.4 320.6,23.1 321,22.8 321.3,22.5 321.6,22.3 322,22 322.3,21.7 322.6,21.5 323,21.2 323.3,21 323.6,20.8 324,20.5 324.3,20.3 324.6,20.1 325,19.9 325.3,19.8 325.6,19.6 326,19.4 326.3,19.3 326.6,19.1 327,19 327.3,18.9 327.6,18.8 328,18.7 328.3,18.7 328.6,18.6 329,18.5 329.3,18.4 329.6,18.4 330,18.3 330.3,18.2 330.6,18.1 331,18.1 331.3,18 334.6,17.5 338,17.4 341.3,17.4 344.6,17.4 348,17.4 351.3,17.4 354.6,17.4 358,17.4 361.3,17.4 364.7,17.4 368,17.4 370,17.4" fill="none" stroke="#cc3d62" stroke-width="1.2" stroke-linejoin="round"/>
<polyline points="297.9,9.3 298.3,9.3 298.6,9.3 298.9,9.3 299.3,9.3 299.6,9.3 299.9,9.3 300.3,9.3 300.6,9.3 300.9,9.3 301.3,9.3 301.6,9.3 301.9,9.3 302.3,9.3 302.6,9.3 302.9,9.3 303.3,9.5 303.6,10.2 303.9,11.1 304.3,12 304.6,13.2 304.9,14.8 305.3,16.6 305.6,18.4 305.9,20.1 306.3,21.8 306.6,23.6 306.9,25.3 307.3,27.1 307.6,28.8 307.9,30.5 308.3,32.2 308.6,33.8 308.9,35.4 309.3,36.9 309.6,38.5 309.9,40 310.3,41.5 310.6,43 310.9,44.4 311.3,45.6 311.6,46.8 311.9,47.9 312.3,48.8 312.6,49.8 312.9,50.7 313.3,51.5 313.6,52.4 313.9,53.1 314.3,53.9 314.6,54.6 314.9,55.3 315.3,56 315.6,56.7 316,57.3 316.3,57.9 316.6,58.5 317,59.1 317.3,59.6 317.6,60.1 318,60.7 318.3,61.2 318.6,61.7 319,62.2 319.3,62.7 319.6,63.2 320,63.6 320.3,64 320.6,64.4 321,64.7 321.3,65 321.6,65.3 322,65.5 322.3,65.7 322.6,65.9 323,66.1 323.3,66.4 323.6,66.5 324,66.7 324.3,66.9 324.6,67.1 325,67.2 325.3,67.4 325.6,67.5 326,67.6 326.3,67.8 326.6,67.9 327,68 327.3,68.1 327.6,68.2 328,68.2 328.3,68.3 328.6,68.4 329,68.5 329.3,68.5 329.6,68.6 330,68.7 330.3,68.7 330.6,68.8 331,68.8 331.3,68.9 334.6,69.1 338,69.1 341.3,69.1 344.6,69.1 348,69.1 351.3,69.1 354.6,69.1 358,69.1 361.3,69.1 364.7,69.1 368,69.1 370,69.1" fill="none" stroke="#3a3a3a" stroke-width="1.2" stroke-linejoin="round"/>
<polyline points="297.9,77.2 298.3,77.2 298.6,77.2 298.9,77.2 299.3,77.2 299.6,77.2 299.9,77.2 300.3,77.2 300.6,77.2 300.9,77.2 301.3,77.2 301.6,77.2 301.9,77.2 302.3,77.2 302.6,77.2 302.9,77.2 303.3,77.2 303.6,77.2 303.9,77.2 304.3,77.2 304.6,77.2 304.9,77.2 305.3,77.2 305.6,77.2 305.9,77.2 306.3,77.2 306.6,77.2 306.9,77.2 307.3,77.2 307.6,77.2 307.9,77.2 308.3,77.2 308.6,77.2 308.9,77.2 309.3,77.2 309.6,77.2 309.9,77.2 310.3,77.2 310.6,77.2 310.9,77.2 311.3,77.2 311.6,77.2 311.9,77.2 312.3,77.2 312.6,77.2 312.9,77.2 313.3,77.2 313.6,77.2 313.9,77.2 314.3,77.2 314.6,77.2 314.9,77.2 315.3,77.2 315.6,77.2 316,77.2 316.3,77.2 316.6,77.2 317,77.2 317.3,77.2 317.6,77.2 318,77.2 318.3,77.2 318.6,77.2 319,77.2 319.3,77.2 319.6,77.2 320,77.2 320.3,77.2 320.6,77.2 321,77.2 321.3,77.2 321.6,77.2 322,77.2 322.3,77.2 322.6,77.2 323,77.2 323.3,77.2 323.6,77.2 324,77.2 324.3,77.2 324.6,77.2 325,77.2 325.3,77.2 325.6,77.2 326,77.2 326.3,77.2 326.6,77.2 327,77.2 327.3,77.2 327.6,77.2 328,77.2 328.3,77.2 328.6,77.2 329,77.2 329.3,77.2 329.6,77.2 330,77.2 330.3,77.2 330.6,77.2 331,77.2 331.3,77.2 334.6,77.2 338,77.2 341.3,77.2 344.6,77.2 348,77.2 351.3,77.2 354.6,77.2 358,77.2 361.3,77.2 364.7,77.2 368,77.2 370,77.2" fill="none" stroke="#46a678" stroke-width="1.5" stroke-linejoin="round"/>
<line x1="294.6" y1="5.9" x2="378" y2="5.9" stroke="#222" stroke-width="1.2"/>
<line x1="294.1" y1="80.6" x2="378" y2="80.6" stroke="#222" stroke-width="1.2"/>
<line x1="294.6" y1="5.9" x2="294.6" y2="80.6" stroke="#222" stroke-width="1.2"/>
<line x1="378" y1="5.9" x2="378" y2="81.3" stroke="#f0a050" stroke-width="1.2"/>
<line x1="294.6" y1="77.2" x2="295.9" y2="77.2" stroke="#222" stroke-width="0.9"/>
<text x="293" y="79" font-size="5.2" fill="#111" text-anchor="end" style="font-family:'Liberation Serif',serif;font-weight:bold">0</text>
<line x1="294.6" y1="63.6" x2="295.9" y2="63.6" stroke="#222" stroke-width="0.9"/>
<text x="293" y="65.4" font-size="5.2" fill="#111" text-anchor="end" style="font-family:'Liberation Serif',serif;font-weight:bold">20</text>
<line x1="294.6" y1="50" x2="295.9" y2="50" stroke="#222" stroke-width="0.9"/>
<text x="293" y="51.8" font-size="5.2" fill="#111" text-anchor="end" style="font-family:'Liberation Serif',serif;font-weight:bold">40</text>
<line x1="294.6" y1="36.5" x2="295.9" y2="36.5" stroke="#222" stroke-width="0.9"/>
<text x="293" y="38.3" font-size="5.2" fill="#111" text-anchor="end" style="font-family:'Liberation Serif',serif;font-weight:bold">60</text>
<line x1="294.6" y1="22.9" x2="295.9" y2="22.9" stroke="#222" stroke-width="0.9"/>
<text x="293" y="24.7" font-size="5.2" fill="#111" text-anchor="end" style="font-family:'Liberation Serif',serif;font-weight:bold">80</text>
<line x1="294.6" y1="9.3" x2="295.9" y2="9.3" stroke="#222" stroke-width="0.9"/>
<text x="293" y="11.1" font-size="5.2" fill="#111" text-anchor="end" style="font-family:'Liberation Serif',serif;font-weight:bold">100</text>
<line x1="376.7" y1="78.1" x2="378" y2="78.1" stroke="#f0953a" stroke-width="0.9"/>
<text x="380.6" y="79.9" font-size="5.2" fill="#f0953a" text-anchor="start" style="font-family:'Liberation Serif',serif;font-weight:bold">300</text>
<line x1="376.7" y1="68.8" x2="378" y2="68.8" stroke="#f0953a" stroke-width="0.9"/>
<text x="380.6" y="70.6" font-size="5.2" fill="#f0953a" text-anchor="start" style="font-family:'Liberation Serif',serif;font-weight:bold">400</text>
<line x1="376.7" y1="59.5" x2="378" y2="59.5" stroke="#f0953a" stroke-width="0.9"/>
<text x="380.6" y="61.3" font-size="5.2" fill="#f0953a" text-anchor="start" style="font-family:'Liberation Serif',serif;font-weight:bold">500</text>
<line x1="376.7" y1="50.1" x2="378" y2="50.1" stroke="#f0953a" stroke-width="0.9"/>
<text x="380.6" y="51.9" font-size="5.2" fill="#f0953a" text-anchor="start" style="font-family:'Liberation Serif',serif;font-weight:bold">600</text>
<line x1="376.7" y1="40.8" x2="378" y2="40.8" stroke="#f0953a" stroke-width="0.9"/>
<text x="380.6" y="42.6" font-size="5.2" fill="#f0953a" text-anchor="start" style="font-family:'Liberation Serif',serif;font-weight:bold">700</text>
<line x1="376.7" y1="31.5" x2="378" y2="31.5" stroke="#f0953a" stroke-width="0.9"/>
<text x="380.6" y="33.3" font-size="5.2" fill="#f0953a" text-anchor="start" style="font-family:'Liberation Serif',serif;font-weight:bold">800</text>
<line x1="376.7" y1="22.2" x2="378" y2="22.2" stroke="#f0953a" stroke-width="0.9"/>
<text x="380.6" y="24" font-size="5.2" fill="#f0953a" text-anchor="start" style="font-family:'Liberation Serif',serif;font-weight:bold">900</text>
<line x1="376.7" y1="12.9" x2="378" y2="12.9" stroke="#f0953a" stroke-width="0.9"/>
<text x="380.6" y="14.7" font-size="5.2" fill="#f0953a" text-anchor="start" style="font-family:'Liberation Serif',serif;font-weight:bold">1000</text>
<line x1="297.9" y1="80.6" x2="297.9" y2="79.3" stroke="#222" stroke-width="0.9"/>
<text x="297.9" y="87.2" font-size="5.2" fill="#111" text-anchor="middle" style="font-family:'Liberation Serif',serif;font-weight:bold">0</text>
<line x1="311.3" y1="80.6" x2="311.3" y2="79.3" stroke="#222" stroke-width="0.9"/>
<text x="311.3" y="87.2" font-size="5.2" fill="#111" text-anchor="middle" style="font-family:'Liberation Serif',serif;font-weight:bold">20</text>
<line x1="324.6" y1="80.6" x2="324.6" y2="79.3" stroke="#222" stroke-width="0.9"/>
<text x="324.6" y="87.2" font-size="5.2" fill="#111" text-anchor="middle" style="font-family:'Liberation Serif',serif;font-weight:bold">40</text>
<line x1="338" y1="80.6" x2="338" y2="79.3" stroke="#222" stroke-width="0.9"/>
<text x="338" y="87.2" font-size="5.2" fill="#111" text-anchor="middle" style="font-family:'Liberation Serif',serif;font-weight:bold">60</text>
<line x1="351.3" y1="80.6" x2="351.3" y2="79.3" stroke="#222" stroke-width="0.9"/>
<text x="351.3" y="87.2" font-size="5.2" fill="#111" text-anchor="middle" style="font-family:'Liberation Serif',serif;font-weight:bold">80</text>
<line x1="364.7" y1="80.6" x2="364.7" y2="79.3" stroke="#222" stroke-width="0.9"/>
<text x="364.7" y="87.2" font-size="5.2" fill="#111" text-anchor="middle" style="font-family:'Liberation Serif',serif;font-weight:bold">100</text>
<line x1="378" y1="80.6" x2="378" y2="79.3" stroke="#222" stroke-width="0.9"/>
<text x="378" y="87.2" font-size="5.2" fill="#111" text-anchor="middle" style="font-family:'Liberation Serif',serif;font-weight:bold">120</text>
<text x="283.4" y="43.8" font-size="7.2" fill="#111" text-anchor="middle" transform="rotate(-90 283.4 43.8)" style="font-family:'Liberation Serif',serif;font-weight:bold">Phase ratio [%]</text>
<text x="394.8" y="43" font-size="6.8" fill="#f0953a" text-anchor="middle" transform="rotate(-90 394.8 43)" style="font-family:'Liberation Serif',serif;font-weight:bold">Temperature [K]</text>
<text x="338.5" y="92.1" font-size="6.4" fill="#111" text-anchor="middle" style="font-family:'Liberation Serif',serif;font-weight:bold">Time [s]</text>
<text x="334.6" y="15.2" font-size="8.3" fill="#111" text-anchor="start" style="font-family:'Liberation Serif',serif;font-weight:bold">Y: 3%</text>
<polyline points="420.6,78.1 427,33.7 439.7,33.7 493,78.1" fill="none" stroke="#de8f58" stroke-width="1.2" stroke-linejoin="round" stroke-dasharray="3.6,1.3,1,1.3"/>
<polyline points="420.6,77.2 421,77.2 421.3,77.2 421.6,77.2 422,77.2 422.3,77.2 422.6,77.2 423,77.2 423.3,77.2 423.6,77.2 424,77.2 424.3,77.2 424.6,77.2 425,77.2 425.3,77.2 425.6,77.2 426,76.8 426.3,75.9 426.6,74.5 427,72.9 427.3,71.2 427.6,69.7 428,68.1 428.3,66.5 428.6,64.8 429,63 429.3,61.1 429.6,59.3 430,57.4 430.3,55.6 430.6,53.9 431,52.3 431.3,50.5 431.6,48.8 432,47.1 432.3,45.4 432.6,43.8 433,42.3 433.3,41 433.6,39.8 434,38.8 434.3,37.8 434.6,37 435,36.1 435.3,35.3 435.6,34.6 436,33.8 436.3,33.2 436.6,32.5 437,31.9 437.3,31.3 437.6,30.7 438,30.1 438.3,29.6 438.7,29 439,28.5 439.3,27.9 439.7,27.4 440,26.9 440.3,26.4 440.7,25.9 441,25.4 441.3,25 441.7,24.6 442,24.1 442.3,23.8 442.7,23.4 443,23 443.3,22.7 443.7,22.4 444,22.2 444.3,21.9 444.7,21.6 445,21.4 445.3,21.1 445.7,20.8 446,20.6 446.3,20.4 446.7,20.1 447,19.9 447.3,19.7 447.7,19.5 448,19.3 448.3,19.2 448.7,19 449,18.9 449.3,18.7 449.7,18.6 450,18.5 450.3,18.4 450.7,18.3 451,18.2 451.3,18.2 451.7,18.1 452,18 452.3,17.9 452.7,17.9 453,17.8 453.3,17.7 453.7,17.7 454,17.6 457.3,17.1 460.7,17 464,17 467.3,17 470.7,17 474,17 477.3,17 480.7,17 484,17 487.4,17 490.7,17 492.7,17" fill="none" stroke="#cc3d62" stroke-width="1.2" stroke-linejoin="round"/>
<polyline points="420.6,8.8 421,8.8 421.3,8.8 421.6,8.8 422,8.8 422.3,8.8 422.6,8.8 423,8.8 423.3,8.8 423.6,8.8 424,8.8 424.3,8.8 424.6,8.8 425,8.8 425.3,8.8 425.6,8.8 426,9.1 426.3,9.7 426.6,10.6 427,11.6 427.3,12.8 427.6,14.4 428,16.2 428.3,18 428.6,19.7 429,21.5 429.3,23.2 429.6,25 430,26.7 430.3,28.5 430.6,30.2 431,31.9 431.3,33.5 431.6,35 432,36.6 432.3,38.2 432.6,39.8 433,41.3 433.3,42.7 433.6,44.1 434,45.4 434.3,46.6 434.6,47.6 435,48.6 435.3,49.6 435.6,50.5 436,51.3 436.3,52.2 436.6,53 437,53.7 437.3,54.5 437.6,55.2 438,55.9 438.3,56.5 438.7,57.1 439,57.8 439.3,58.3 439.7,58.9 440,59.5 440.3,60 440.7,60.6 441,61.1 441.3,61.6 441.7,62.1 442,62.6 442.3,63 442.7,63.5 443,63.9 443.3,64.2 443.7,64.6 444,64.9 444.3,65.1 444.7,65.4 445,65.6 445.3,65.8 445.7,66.1 446,66.3 446.3,66.5 446.7,66.6 447,66.8 447.3,67 447.7,67.1 448,67.3 448.3,67.4 448.7,67.6 449,67.7 449.3,67.8 449.7,67.9 450,68 450.3,68.1 450.7,68.1 451,68.2 451.3,68.3 451.7,68.4 452,68.4 452.3,68.5 452.7,68.6 453,68.6 453.3,68.7 453.7,68.7 454,68.8 457.3,69 460.7,69 464,69 467.3,69 470.7,69 474,69 477.3,69 480.7,69 484,69 487.4,69 490.7,69 492.7,69" fill="none" stroke="#3a3a3a" stroke-width="1.2" stroke-linejoin="round"/>
<polyline points="420.6,77.2 421,77.2 421.3,77.2 421.6,77.2 422,77.2 422.3,77.2 422.6,77.2 423,77.2 423.3,77.2 423.6,77.2 424,77.2 424.3,77.2 424.6,77.2 425,77.2 425.3,77.2 425.6,77.2 426,77.2 426.3,77.2 426.6,77.2 427,77.2 427.3,77.2 427.6,77.2 428,77.2 428.3,77.2 428.6,77.2 429,77.2 429.3,77.2 429.6,77.2 430,77.2 430.3,77.2 430.6,77.2 431,77.2 431.3,77.2 431.6,77.2 432,77.2 432.3,77.2 432.6,77.2 433,77.2 433.3,77.2 433.6,77.2 434,77.2 434.3,77.2 434.6,77.2 435,77.2 435.3,77.2 435.6,77.2 436,77.2 436.3,77.2 436.6,77.2 437,77.2 437.3,77.2 437.6,77.2 438,77.2 438.3,77.2 438.7,77.2 439,77.2 439.3,77.2 439.7,77.2 440,77.2 440.3,77.2 440.7,77.2 441,77.2 441.3,77.2 441.7,77.2 442,77.2 442.3,77.2 442.7,77.2 443,77.2 443.3,77.2 443.7,77.2 444,77.2 444.3,77.2 444.7,77.2 445,77.2 445.3,77.2 445.7,77.2 446,77.2 446.3,77.2 446.7,77.2 447,77.2 447.3,77.2 447.7,77.2 448,77.2 448.3,77.2 448.7,77.2 449,77.2 449.3,77.2 449.7,77.2 450,77.2 450.3,77.2 450.7,77.2 451,77.2 451.3,77.2 451.7,77.2 452,77.2 452.3,77.2 452.7,77.2 453,77.2 453.3,77.2 453.7,77.2 454,77.2 457.3,77.2 460.7,77.2 464,77.2 467.3,77.2 470.7,77.2 474,77.2 477.3,77.2 480.7,77.2 484,77.2 487.4,77.2 490.7,77.2 492.7,77.2" fill="none" stroke="#46a678" stroke-width="1.5" stroke-linejoin="round"/>
<line x1="417.3" y1="5.4" x2="500.7" y2="5.4" stroke="#222" stroke-width="1.2"/>
<line x1="416.8" y1="80.6" x2="500.7" y2="80.6" stroke="#222" stroke-width="1.2"/>
<line x1="417.3" y1="5.4" x2="417.3" y2="80.6" stroke="#222" stroke-width="1.2"/>
<line x1="500.7" y1="5.4" x2="500.7" y2="81.3" stroke="#f0a050" stroke-width="1.2"/>
<line x1="417.3" y1="77.2" x2="418.6" y2="77.2" stroke="#222" stroke-width="0.9"/>
<text x="415.7" y="79" font-size="5.2" fill="#111" text-anchor="end" style="font-family:'Liberation Serif',serif;font-weight:bold">0</text>
<line x1="417.3" y1="63.5" x2="418.6" y2="63.5" stroke="#222" stroke-width="0.9"/>
<text x="415.7" y="65.3" font-size="5.2" fill="#111" text-anchor="end" style="font-family:'Liberation Serif',serif;font-weight:bold">20</text>
<line x1="417.3" y1="49.8" x2="418.6" y2="49.8" stroke="#222" stroke-width="0.9"/>
<text x="415.7" y="51.6" font-size="5.2" fill="#111" text-anchor="end" style="font-family:'Liberation Serif',serif;font-weight:bold">40</text>
<line x1="417.3" y1="36.2" x2="418.6" y2="36.2" stroke="#222" stroke-width="0.9"/>
<text x="415.7" y="38" font-size="5.2" fill="#111" text-anchor="end" style="font-family:'Liberation Serif',serif;font-weight:bold">60</text>
<line x1="417.3" y1="22.5" x2="418.6" y2="22.5" stroke="#222" stroke-width="0.9"/>
<text x="415.7" y="24.3" font-size="5.2" fill="#111" text-anchor="end" style="font-family:'Liberation Serif',serif;font-weight:bold">80</text>
<line x1="417.3" y1="8.8" x2="418.6" y2="8.8" stroke="#222" stroke-width="0.9"/>
<text x="415.7" y="10.6" font-size="5.2" fill="#111" text-anchor="end" style="font-family:'Liberation Serif',serif;font-weight:bold">100</text>
<line x1="499.4" y1="78.1" x2="500.7" y2="78.1" stroke="#f0953a" stroke-width="0.9"/>
<text x="503.3" y="79.9" font-size="5.2" fill="#f0953a" text-anchor="start" style="font-family:'Liberation Serif',serif;font-weight:bold">300</text>
<line x1="499.4" y1="68.7" x2="500.7" y2="68.7" stroke="#f0953a" stroke-width="0.9"/>
<text x="503.3" y="70.5" font-size="5.2" fill="#f0953a" text-anchor="start" style="font-family:'Liberation Serif',serif;font-weight:bold">400</text>
<line x1="499.4" y1="59.3" x2="500.7" y2="59.3" stroke="#f0953a" stroke-width="0.9"/>
<text x="503.3" y="61.1" font-size="5.2" fill="#f0953a" text-anchor="start" style="font-family:'Liberation Serif',serif;font-weight:bold">500</text>
<line x1="499.4" y1="49.9" x2="500.7" y2="49.9" stroke="#f0953a" stroke-width="0.9"/>
<text x="503.3" y="51.7" font-size="5.2" fill="#f0953a" text-anchor="start" style="font-family:'Liberation Serif',serif;font-weight:bold">600</text>
<line x1="499.4" y1="40.6" x2="500.7" y2="40.6" stroke="#f0953a" stroke-width="0.9"/>
<text x="503.3" y="42.4" font-size="5.2" fill="#f0953a" text-anchor="start" style="font-family:'Liberation Serif',serif;font-weight:bold">700</text>
<line x1="499.4" y1="31.2" x2="500.7" y2="31.2" stroke="#f0953a" stroke-width="0.9"/>
<text x="503.3" y="33" font-size="5.2" fill="#f0953a" text-anchor="start" style="font-family:'Liberation Serif',serif;font-weight:bold">800</text>
<line x1="499.4" y1="21.8" x2="500.7" y2="21.8" stroke="#f0953a" stroke-width="0.9"/>
<text x="503.3" y="23.6" font-size="5.2" fill="#f0953a" text-anchor="start" style="font-family:'Liberation Serif',serif;font-weight:bold">900</text>
<line x1="499.4" y1="12.4" x2="500.7" y2="12.4" stroke="#f0953a" stroke-width="0.9"/>
<text x="503.3" y="14.2" font-size="5.2" fill="#f0953a" text-anchor="start" style="font-family:'Liberation Serif',serif;font-weight:bold">1000</text>
<line x1="420.6" y1="80.6" x2="420.6" y2="79.3" stroke="#222" stroke-width="0.9"/>
<text x="420.6" y="87.2" font-size="5.2" fill="#111" text-anchor="middle" style="font-family:'Liberation Serif',serif;font-weight:bold">0</text>
<line x1="434" y1="80.6" x2="434" y2="79.3" stroke="#222" stroke-width="0.9"/>
<text x="434" y="87.2" font-size="5.2" fill="#111" text-anchor="middle" style="font-family:'Liberation Serif',serif;font-weight:bold">20</text>
<line x1="447.3" y1="80.6" x2="447.3" y2="79.3" stroke="#222" stroke-width="0.9"/>
<text x="447.3" y="87.2" font-size="5.2" fill="#111" text-anchor="middle" style="font-family:'Liberation Serif',serif;font-weight:bold">40</text>
<line x1="460.7" y1="80.6" x2="460.7" y2="79.3" stroke="#222" stroke-width="0.9"/>
<text x="460.7" y="87.2" font-size="5.2" fill="#111" text-anchor="middle" style="font-family:'Liberation Serif',serif;font-weight:bold">60</text>
<line x1="474" y1="80.6" x2="474" y2="79.3" stroke="#222" stroke-width="0.9"/>
<text x="474" y="87.2" font-size="5.2" fill="#111" text-anchor="middle" style="font-family:'Liberation Serif',serif;font-weight:bold">80</text>
<line x1="487.4" y1="80.6" x2="487.4" y2="79.3" stroke="#222" stroke-width="0.9"/>
<text x="487.4" y="87.2" font-size="5.2" fill="#111" text-anchor="middle" style="font-family:'Liberation Serif',serif;font-weight:bold">100</text>
<line x1="500.7" y1="80.6" x2="500.7" y2="79.3" stroke="#222" stroke-width="0.9"/>
<text x="500.7" y="87.2" font-size="5.2" fill="#111" text-anchor="middle" style="font-family:'Liberation Serif',serif;font-weight:bold">120</text>
<text x="406.1" y="43.5" font-size="7.2" fill="#111" text-anchor="middle" transform="rotate(-90 406.1 43.5)" style="font-family:'Liberation Serif',serif;font-weight:bold">Phase ratio [%]</text>
<text x="517.5" y="42.7" font-size="6.8" fill="#f0953a" text-anchor="middle" transform="rotate(-90 517.5 42.7)" style="font-family:'Liberation Serif',serif;font-weight:bold">Temperature [K]</text>
<text x="461.2" y="92.1" font-size="6.4" fill="#111" text-anchor="middle" style="font-family:'Liberation Serif',serif;font-weight:bold">Time [s]</text>
<text x="458.7" y="14.7" font-size="8.3" fill="#111" text-anchor="start" style="font-family:'Liberation Serif',serif;font-weight:bold">Y: 7%</text>
<polyline points="173,181.9 180,128.2 193.4,128.2 253,178.6" fill="none" stroke="#de8f58" stroke-width="1.2" stroke-linejoin="round" stroke-dasharray="3.6,1.3,1,1.3"/>
<polyline points="173,181 173.4,181 173.7,181 174,181 174.4,181 174.7,181 175,181 175.4,181 175.7,181 176,181 176.4,181 176.7,181 177,181 177.4,181 177.7,181 178,181 178.4,181 178.7,181 179,181 179.4,181 179.7,181 180,181 180.4,181 180.7,180.7 181,179.9 181.4,178.6 181.7,177.1 182,175.2 182.4,173.3 182.7,171.2 183,169.2 183.4,167.3 183.7,165.5 184,163.4 184.4,161.3 184.7,159.1 185,156.8 185.4,154.6 185.7,152.3 186,150 186.4,147.6 186.7,145.1 187,142.6 187.4,140.2 187.7,138 188,135.9 188.4,134 188.7,132 189,130.1 189.4,128.3 189.7,126.6 190,125.1 190.4,123.9 190.7,123 191,122.2 191.4,121.5 191.7,120.8 192,120.2 192.4,119.7 192.7,119.2 193,118.7 193.4,118.3 193.7,117.9 194,117.6 194.4,117.3 194.7,117.1 195,116.9 195.4,116.7 195.7,116.5 196,116.3 196.4,116.2 196.7,116 197,115.8 197.4,115.7 197.7,115.6 198,115.4 198.4,115.3 198.7,115.2 199,115.1 199.4,115 199.7,114.9 200,114.9 200.4,114.8 200.7,114.8 201,114.8 201.4,114.7 201.7,114.7 202,114.7 202.4,114.7 202.7,114.7 203,114.6 203.4,114.6 203.7,114.6 204,114.6 204.4,114.6 204.7,114.6 205,114.6 205.4,114.6 205.7,114.6 206,114.6 206.4,114.6 209.7,114.6 213,114.6 216.3,114.6 219.7,114.6 223,114.6 226.3,114.6 229.7,114.6 233,114.6 236.3,114.6 239.7,114.6 243,114.6 246.3,114.6 249.7,114.6 253,114.6" fill="none" stroke="#46a678" stroke-width="1.2" stroke-linejoin="round"/>
<polyline points="173,181 173.4,181 173.7,181 174,181 174.4,181 174.7,181 175,181 175.4,181 175.7,181 176,181 176.4,181 176.7,181 177,181 177.4,181 177.7,181 178,181 178.4,181 178.7,181 179,181 179.4,181 179.7,181 180,181 180.4,181 180.7,181 181,180.8 181.4,180.2 181.7,179.3 182,178.2 182.4,177 182.7,175.8 183,174.8 183.4,173.9 183.7,172.9 184,171.9 184.4,170.9 184.7,170.1 185,169.4 185.4,168.9 185.7,168.8 186,169.1 186.4,169.5 186.7,170.2 187,170.8 187.4,171.5 187.7,172.1 188,172.6 188.4,173.1 188.7,173.7 189,174.2 189.4,174.6 189.7,175.1 190,175.5 190.4,175.8 190.7,176.1 191,176.4 191.4,176.7 191.7,177 192,177.3 192.4,177.5 192.7,177.7 193,177.9 193.4,178.1 193.7,178.3 194,178.5 194.4,178.6 194.7,178.8 195,178.9 195.4,179 195.7,179.1 196,179.2 196.4,179.3 196.7,179.4 197,179.4 197.4,179.5 197.7,179.6 198,179.6 198.4,179.7 198.7,179.7 199,179.8 199.4,179.9 199.7,179.9 200,179.9 200.4,180 200.7,180 201,180.1 201.4,180.1 201.7,180.1 202,180.1 202.4,180.2 202.7,180.2 203,180.2 203.4,180.2 203.7,180.2 204,180.2 204.4,180.2 204.7,180.2 205,180.2 205.4,180.2 205.7,180.2 206,180.2 206.4,180.2 209.7,180.2 213,180.2 216.3,180.2 219.7,180.2 223,180.3 226.3,180.3 229.7,180.3 233,180.3 236.3,180.3 239.7,180.3 243,180.3 246.3,180.3 249.7,180.3 253,180.3" fill="none" stroke="#3a6cbc" stroke-width="1.2" stroke-linejoin="round"/>
<polyline points="173,181 173.4,181 173.7,181 174,181 174.4,181 174.7,181 175,181 175.4,181 175.7,181 176,181 176.4,181 176.7,181 177,181 177.4,181 177.7,181 178,181 178.4,180.6 178.7,179.1 179,177 179.4,174.7 179.7,172.8 180,171 180.4,169 180.7,166.9 181,165.1 181.4,163.7 181.7,163 182,162.9 182.4,163.2 182.7,163.7 183,164.1 183.4,164.6 183.7,165 184,165.4 184.4,165.8 184.7,166.3 185,166.8 185.4,167.4 185.7,168.1 186,168.8 186.4,169.5 186.7,170.3 187,171 187.4,171.8 187.7,172.5 188,173.1 188.4,173.7 188.7,174.1 189,174.6 189.4,175.1 189.7,175.5 190,175.9 190.4,176.3 190.7,176.7 191,177.1 191.4,177.5 191.7,177.8 192,178.1 192.4,178.3 192.7,178.5 193,178.7 193.4,178.8 193.7,178.9 194,179.1 194.4,179.2 194.7,179.3 195,179.4 195.4,179.5 195.7,179.6 196,179.7 196.4,179.8 196.7,179.9 197,180 197.4,180.1 197.7,180.2 198,180.2 198.4,180.3 198.7,180.3 199,180.4 199.4,180.4 199.7,180.4 200,180.4 200.4,180.4 200.7,180.4 201,180.4 201.4,180.4 201.7,180.4 202,180.5 202.4,180.5 202.7,180.5 203,180.5 203.4,180.5 203.7,180.5 204,180.5 204.4,180.5 204.7,180.5 205,180.5 205.4,180.5 205.7,180.5 206,180.5 206.4,180.5 209.7,180.5 213,180.5 216.3,180.5 219.7,180.5 223,180.5 226.3,180.5 229.7,180.5 233,180.5 236.3,180.5 239.7,180.6 243,180.6 246.3,180.6 249.7,180.6 253,180.6" fill="none" stroke="#cc3d62" stroke-width="1.2" stroke-linejoin="round"/>
<polyline points="173,112.7 173.4,112.7 173.7,112.7 174,112.7 174.4,112.7 174.7,112.7 175,112.7 175.4,112.7 175.7,112.7 176,112.7 176.4,112.7 176.7,112.7 177,112.7 177.4,112.7 177.7,112.8 178,113 178.4,113.5 178.7,114 179,114.7 179.4,115.5 179.7,116.7 180,118.6 180.4,121.3 180.7,124.3 181,128.8 181.4,134.1 181.7,137.8 182,141.1 182.4,144.2 182.7,147.5 183,151.7 183.4,156.4 183.7,160.7 184,163.6 184.4,165 184.7,166.2 185,167.2 185.4,168 185.7,168.8 186,169.4 186.4,170 186.7,170.5 187,171 187.4,171.5 187.7,172 188,172.5 188.4,173 188.7,173.5 189,173.9 189.4,174.3 189.7,174.7 190,175.1 190.4,175.5 190.7,175.8 191,176.2 191.4,176.5 191.7,176.7 192,177 192.4,177.2 192.7,177.5 193,177.6 193.4,177.8 193.7,178 194,178.1 194.4,178.3 194.7,178.5 195,178.6 195.4,178.8 195.7,178.9 196,179 196.4,179.2 196.7,179.3 197,179.4 197.4,179.5 197.7,179.6 198,179.7 198.4,179.8 198.7,179.9 199,179.9 199.4,180 199.7,180 200,180.1 200.4,180.1 200.7,180.1 201,180.1 201.4,180.2 201.7,180.2 202,180.2 202.4,180.2 202.7,180.2 203,180.3 203.4,180.3 203.7,180.3 204,180.3 204.4,180.3 204.7,180.3 205,180.3 205.4,180.4 205.7,180.4 206,180.4 206.4,180.4 209.7,180.4 213,180.4 216.3,180.4 219.7,180.4 223,180.4 226.3,180.4 229.7,180.4 233,180.4 236.3,180.4 239.7,180.4 243,180.4 246.3,180.4 249.7,180.4 253,180.4" fill="none" stroke="#3a3a3a" stroke-width="1.2" stroke-linejoin="round"/>
<line x1="169.7" y1="109.3" x2="253" y2="109.3" stroke="#222" stroke-width="1.2"/>
<line x1="169.2" y1="184.4" x2="253" y2="184.4" stroke="#222" stroke-width="1.2"/>
<line x1="169.7" y1="109.3" x2="169.7" y2="184.4" stroke="#222" stroke-width="1.2"/>
<line x1="253" y1="109.3" x2="253" y2="185.1" stroke="#f0a050" stroke-width="1.2"/>
<line x1="169.7" y1="181" x2="171" y2="181" stroke="#222" stroke-width="0.9"/>
<text x="168.1" y="182.8" font-size="5.2" fill="#111" text-anchor="end" style="font-family:'Liberation Serif',serif;font-weight:bold">0</text>
<line x1="169.7" y1="167.3" x2="171" y2="167.3" stroke="#222" stroke-width="0.9"/>
<text x="168.1" y="169.1" font-size="5.2" fill="#111" text-anchor="end" style="font-family:'Liberation Serif',serif;font-weight:bold">20</text>
<line x1="169.7" y1="153.7" x2="171" y2="153.7" stroke="#222" stroke-width="0.9"/>
<text x="168.1" y="155.5" font-size="5.2" fill="#111" text-anchor="end" style="font-family:'Liberation Serif',serif;font-weight:bold">40</text>
<line x1="169.7" y1="140" x2="171" y2="140" stroke="#222" stroke-width="0.9"/>
<text x="168.1" y="141.8" font-size="5.2" fill="#111" text-anchor="end" style="font-family:'Liberation Serif',serif;font-weight:bold">60</text>
<line x1="169.7" y1="126.4" x2="171" y2="126.4" stroke="#222" stroke-width="0.9"/>
<text x="168.1" y="128.2" font-size="5.2" fill="#111" text-anchor="end" style="font-family:'Liberation Serif',serif;font-weight:bold">80</text>
<line x1="169.7" y1="112.7" x2="171" y2="112.7" stroke="#222" stroke-width="0.9"/>
<text x="168.1" y="114.5" font-size="5.2" fill="#111" text-anchor="end" style="font-family:'Liberation Serif',serif;font-weight:bold">100</text>
<line x1="251.7" y1="181.9" x2="253" y2="181.9" stroke="#f0953a" stroke-width="0.9"/>
<text x="255.6" y="183.7" font-size="5.2" fill="#f0953a" text-anchor="start" style="font-family:'Liberation Serif',serif;font-weight:bold">300</text>
<line x1="251.7" y1="172.5" x2="253" y2="172.5" stroke="#f0953a" stroke-width="0.9"/>
<text x="255.6" y="174.3" font-size="5.2" fill="#f0953a" text-anchor="start" style="font-family:'Liberation Serif',serif;font-weight:bold">400</text>
<line x1="251.7" y1="163.1" x2="253" y2="163.1" stroke="#f0953a" stroke-width="0.9"/>
<text x="255.6" y="164.9" font-size="5.2" fill="#f0953a" text-anchor="start" style="font-family:'Liberation Serif',serif;font-weight:bold">500</text>
<line x1="251.7" y1="153.8" x2="253" y2="153.8" stroke="#f0953a" stroke-width="0.9"/>
<text x="255.6" y="155.6" font-size="5.2" fill="#f0953a" text-anchor="start" style="font-family:'Liberation Serif',serif;font-weight:bold">600</text>
<line x1="251.7" y1="144.4" x2="253" y2="144.4" stroke="#f0953a" stroke-width="0.9"/>
<text x="255.6" y="146.2" font-size="5.2" fill="#f0953a" text-anchor="start" style="font-family:'Liberation Serif',serif;font-weight:bold">700</text>
<line x1="251.7" y1="135.1" x2="253" y2="135.1" stroke="#f0953a" stroke-width="0.9"/>
<text x="255.6" y="136.9" font-size="5.2" fill="#f0953a" text-anchor="start" style="font-family:'Liberation Serif',serif;font-weight:bold">800</text>
<line x1="251.7" y1="125.7" x2="253" y2="125.7" stroke="#f0953a" stroke-width="0.9"/>
<text x="255.6" y="127.5" font-size="5.2" fill="#f0953a" text-anchor="start" style="font-family:'Liberation Serif',serif;font-weight:bold">900</text>
<line x1="251.7" y1="116.3" x2="253" y2="116.3" stroke="#f0953a" stroke-width="0.9"/>
<text x="255.6" y="118.1" font-size="5.2" fill="#f0953a" text-anchor="start" style="font-family:'Liberation Serif',serif;font-weight:bold">1000</text>
<line x1="173" y1="184.4" x2="173" y2="183.1" stroke="#222" stroke-width="0.9"/>
<text x="173" y="191" font-size="5.2" fill="#111" text-anchor="middle" style="font-family:'Liberation Serif',serif;font-weight:bold">0</text>
<line x1="186.4" y1="184.4" x2="186.4" y2="183.1" stroke="#222" stroke-width="0.9"/>
<text x="186.4" y="191" font-size="5.2" fill="#111" text-anchor="middle" style="font-family:'Liberation Serif',serif;font-weight:bold">20</text>
<line x1="199.7" y1="184.4" x2="199.7" y2="183.1" stroke="#222" stroke-width="0.9"/>
<text x="199.7" y="191" font-size="5.2" fill="#111" text-anchor="middle" style="font-family:'Liberation Serif',serif;font-weight:bold">40</text>
<line x1="213" y1="184.4" x2="213" y2="183.1" stroke="#222" stroke-width="0.9"/>
<text x="213" y="191" font-size="5.2" fill="#111" text-anchor="middle" style="font-family:'Liberation Serif',serif;font-weight:bold">60</text>
<line x1="226.3" y1="184.4" x2="226.3" y2="183.1" stroke="#222" stroke-width="0.9"/>
<text x="226.3" y="191" font-size="5.2" fill="#111" text-anchor="middle" style="font-family:'Liberation Serif',serif;font-weight:bold">80</text>
<line x1="239.7" y1="184.4" x2="239.7" y2="183.1" stroke="#222" stroke-width="0.9"/>
<text x="239.7" y="191" font-size="5.2" fill="#111" text-anchor="middle" style="font-family:'Liberation Serif',serif;font-weight:bold">100</text>
<line x1="253" y1="184.4" x2="253" y2="183.1" stroke="#222" stroke-width="0.9"/>
<text x="253" y="191" font-size="5.2" fill="#111" text-anchor="middle" style="font-family:'Liberation Serif',serif;font-weight:bold">120</text>
<text x="158.5" y="147.3" font-size="7.2" fill="#111" text-anchor="middle" transform="rotate(-90 158.5 147.3)" style="font-family:'Liberation Serif',serif;font-weight:bold">Phase ratio [%]</text>
<text x="269.8" y="146.5" font-size="6.8" fill="#f0953a" text-anchor="middle" transform="rotate(-90 269.8 146.5)" style="font-family:'Liberation Serif',serif;font-weight:bold">Temperature [K]</text>
<text x="213.5" y="195.9" font-size="6.4" fill="#111" text-anchor="middle" style="font-family:'Liberation Serif',serif;font-weight:bold">Time [s]</text>
<text x="221.7" y="126.6" font-size="8.3" fill="#111" text-anchor="start" style="font-family:'Liberation Serif',serif;font-weight:bold">Y: 0%</text>
<polyline points="297.9,181 305.5,128.1 317.8,128.1 377.5,177.8" fill="none" stroke="#de8f58" stroke-width="1.2" stroke-linejoin="round" stroke-dasharray="3.6,1.3,1,1.3"/>
<polyline points="297.9,180.1 298.2,180.1 298.6,180.1 298.9,180.1 299.2,180.1 299.6,180.1 299.9,180.1 300.2,180.1 300.6,180.1 300.9,180.1 301.2,180.1 301.6,180.1 301.9,180.1 302.2,180.1 302.6,180.1 302.9,180.1 303.2,180.1 303.6,180.1 303.9,180.1 304.2,180.1 304.5,180.1 304.9,180.1 305.2,180.1 305.5,179.9 305.9,179.5 306.2,179 306.5,178.4 306.9,177.6 307.2,176.7 307.5,175.8 307.9,174.8 308.2,173.7 308.5,172.6 308.9,171.4 309.2,170.3 309.5,169.2 309.9,168.1 310.2,167.1 310.5,166.1 310.8,165 311.2,164 311.5,162.8 311.8,161.7 312.2,160.5 312.5,159.3 312.8,158.1 313.2,156.9 313.5,155.6 313.8,154.4 314.2,153.2 314.5,152 314.8,150.8 315.2,149.6 315.5,148.2 315.8,146.9 316.2,145.4 316.5,144 316.8,142.7 317.1,141.4 317.5,140.2 317.8,139.2 318.1,138.4 318.5,137.8 318.8,137.3 319.1,136.8 319.5,136.4 319.8,136 320.1,135.7 320.5,135.3 320.8,135 321.1,134.8 321.5,134.5 321.8,134.4 322.1,134.3 322.5,134.2 322.8,134.2 323.1,134.1 323.4,134.1 323.8,134.1 324.1,134.1 324.4,134.1 324.8,134.1 325.1,134 325.4,134 325.8,134 326.1,134 326.4,134 326.8,134 327.1,134 327.4,134 327.8,134 328.1,134 328.4,134 328.8,134 329.1,134 329.4,134 329.7,134 330.1,134 330.4,134 330.7,134 331.1,134 334.4,134 337.7,134 341,134 344.3,134 347.7,134 351,134 354.3,134 357.6,134 360.9,134 364.2,134 367.6,134 370.9,134 374.2,134 377.5,134" fill="none" stroke="#3a6cbc" stroke-width="1.2" stroke-linejoin="round"/>
<polyline points="297.9,180.1 298.2,180.1 298.6,180.1 298.9,180.1 299.2,180.1 299.6,180.1 299.9,180.1 300.2,180.1 300.6,180.1 300.9,180.1 301.2,180.1 301.6,180.1 301.9,180.1 302.2,180.1 302.6,180.1 302.9,180.1 303.2,179.4 303.6,178.2 303.9,176.6 304.2,174.6 304.5,172.6 304.9,170.5 305.2,168.3 305.5,165.5 305.9,162.2 306.2,158.8 306.5,155.5 306.9,152.6 307.2,150.5 307.5,149.1 307.9,147.9 308.2,146.7 308.5,145.6 308.9,144.7 309.2,143.9 309.5,143.3 309.9,142.8 310.2,142.6 310.5,142.6 310.8,142.8 311.2,143 311.5,143.3 311.8,143.7 312.2,144.2 312.5,144.7 312.8,145.3 313.2,145.8 313.5,146.4 313.8,147 314.2,147.5 314.5,148 314.8,148.6 315.2,149.3 315.5,149.9 315.8,150.6 316.2,151.3 316.5,152.1 316.8,152.8 317.1,153.5 317.5,154.1 317.8,154.8 318.1,155.4 318.5,156.2 318.8,157 319.1,157.7 319.5,158.3 319.8,158.8 320.1,159 320.5,159 320.8,159.1 321.1,159.1 321.5,159.1 321.8,159.1 322.1,159.1 322.5,159.1 322.8,159.1 323.1,159.1 323.4,159.1 323.8,159.1 324.1,159.1 324.4,159.1 324.8,159.1 325.1,159.1 325.4,159.1 325.8,159.1 326.1,159.1 326.4,159.1 326.8,159.1 327.1,159.1 327.4,159.1 327.8,159.1 328.1,159.1 328.4,159.1 328.8,159.1 329.1,159.1 329.4,159.1 329.7,159.1 330.1,159.1 330.4,159.1 330.7,159.1 331.1,159.1 334.4,159.1 337.7,159.1 341,159.1 344.3,159.1 347.7,159.1 351,159.1 354.3,159.1 357.6,159.1 360.9,159.1 364.2,159.1 367.6,159.1 370.9,159.1 374.2,159.1 377.5,159.1" fill="none" stroke="#cc3d62" stroke-width="1.2" stroke-linejoin="round"/>
<polyline points="297.9,112.9 298.2,112.9 298.6,112.9 298.9,112.9 299.2,112.9 299.6,112.9 299.9,112.9 300.2,112.9 300.6,112.9 300.9,112.9 301.2,112.9 301.6,112.9 301.9,112.9 302.2,112.9 302.6,112.9 302.9,112.9 303.2,112.9 303.6,112.9 303.9,113.3 304.2,114.2 304.5,115.4 304.9,117.6 305.2,123.2 305.5,128.3 305.9,133.1 306.2,137.8 306.5,142.8 306.9,146.4 307.2,149.3 307.5,151.7 307.9,153.8 308.2,155.7 308.5,157.5 308.9,159.2 309.2,160.8 309.5,162.3 309.9,163.6 310.2,164.7 310.5,165.7 310.8,166.6 311.2,167.5 311.5,168.3 311.8,169.1 312.2,169.8 312.5,170.5 312.8,171.2 313.2,171.8 313.5,172.4 313.8,172.9 314.2,173.4 314.5,173.8 314.8,174.1 315.2,174.5 315.5,174.8 315.8,175.1 316.2,175.4 316.5,175.7 316.8,176 317.1,176.3 317.5,176.6 317.8,176.8 318.1,177.1 318.5,177.3 318.8,177.6 319.1,177.8 319.5,178 319.8,178.2 320.1,178.3 320.5,178.5 320.8,178.6 321.1,178.7 321.5,178.8 321.8,178.9 322.1,179 322.5,179.1 322.8,179.1 323.1,179.2 323.4,179.2 323.8,179.3 324.1,179.3 324.4,179.3 324.8,179.4 325.1,179.4 325.4,179.5 325.8,179.5 326.1,179.5 326.4,179.6 326.8,179.6 327.1,179.6 327.4,179.7 327.8,179.7 328.1,179.7 328.4,179.7 328.8,179.7 329.1,179.8 329.4,179.8 329.7,179.8 330.1,179.8 330.4,179.8 330.7,179.8 331.1,179.8 334.4,179.8 337.7,179.8 341,179.8 344.3,179.8 347.7,179.8 351,179.8 354.3,179.8 357.6,179.8 360.9,179.8 364.2,179.8 367.6,179.8 370.9,179.8 374.2,179.8 377.5,179.8" fill="none" stroke="#3a3a3a" stroke-width="1.2" stroke-linejoin="round"/>
<polyline points="297.9,180.1 298.2,180.1 298.6,180.1 298.9,180.1 299.2,180.1 299.6,180.1 299.9,180.1 300.2,180.1 300.6,180.1 300.9,180.1 301.2,180.1 301.6,180.1 301.9,180.1 302.2,180.1 302.6,180.1 302.9,180.1 303.2,180.1 303.6,180.1 303.9,180.1 304.2,180.1 304.5,180.1 304.9,180.1 305.2,180.1 305.5,180.1 305.9,180.1 306.2,180.1 306.5,180.1 306.9,180.1 307.2,180.1 307.5,180.1 307.9,180.1 308.2,180.1 308.5,180.1 308.9,180.1 309.2,180.1 309.5,180.1 309.9,180.1 310.2,180.1 310.5,180.1 310.8,180.1 311.2,180.1 311.5,180.1 311.8,180.1 312.2,180.1 312.5,180.1 312.8,180.1 313.2,180.1 313.5,180.1 313.8,180.1 314.2,180.1 314.5,180.1 314.8,180.1 315.2,180.1 315.5,180.1 315.8,180.1 316.2,180.1 316.5,180.1 316.8,180.1 317.1,180.1 317.5,180.1 317.8,180.1 318.1,180.1 318.5,180.1 318.8,180.1 319.1,180.1 319.5,180.1 319.8,180.1 320.1,180.1 320.5,180.1 320.8,180.1 321.1,180.1 321.5,180.1 321.8,180.1 322.1,180.1 322.5,180.1 322.8,180.1 323.1,180.1 323.4,180.1 323.8,180.1 324.1,180.1 324.4,180.1 324.8,180.1 325.1,180.1 325.4,180.1 325.8,180.1 326.1,180.1 326.4,180.1 326.8,180.1 327.1,180.1 327.4,180.1 327.8,180.1 328.1,180.1 328.4,180.1 328.8,180.1 329.1,180.1 329.4,180.1 329.7,180.1 330.1,180.1 330.4,180.1 330.7,180.1 331.1,180.1 334.4,180.1 337.7,180.1 341,180.1 344.3,180.1 347.7,180.1 351,180.1 354.3,180.1 357.6,180.1 360.9,180.1 364.2,180.1 367.6,180.1 370.9,180.1 374.2,180.1 377.5,180.1" fill="none" stroke="#46a678" stroke-width="1.5" stroke-linejoin="round"/>
<line x1="294.6" y1="109.5" x2="377.5" y2="109.5" stroke="#222" stroke-width="1.2"/>
<line x1="294.1" y1="183.5" x2="377.5" y2="183.5" stroke="#222" stroke-width="1.2"/>
<line x1="294.6" y1="109.5" x2="294.6" y2="183.5" stroke="#222" stroke-width="1.2"/>
<line x1="377.5" y1="109.5" x2="377.5" y2="184.2" stroke="#f0a050" stroke-width="1.2"/>
<line x1="294.6" y1="180.1" x2="295.9" y2="180.1" stroke="#222" stroke-width="0.9"/>
<text x="293" y="181.9" font-size="5.2" fill="#111" text-anchor="end" style="font-family:'Liberation Serif',serif;font-weight:bold">0</text>
<line x1="294.6" y1="166.7" x2="295.9" y2="166.7" stroke="#222" stroke-width="0.9"/>
<text x="293" y="168.5" font-size="5.2" fill="#111" text-anchor="end" style="font-family:'Liberation Serif',serif;font-weight:bold">20</text>
<line x1="294.6" y1="153.2" x2="295.9" y2="153.2" stroke="#222" stroke-width="0.9"/>
<text x="293" y="155" font-size="5.2" fill="#111" text-anchor="end" style="font-family:'Liberation Serif',serif;font-weight:bold">40</text>
<line x1="294.6" y1="139.8" x2="295.9" y2="139.8" stroke="#222" stroke-width="0.9"/>
<text x="293" y="141.6" font-size="5.2" fill="#111" text-anchor="end" style="font-family:'Liberation Serif',serif;font-weight:bold">60</text>
<line x1="294.6" y1="126.3" x2="295.9" y2="126.3" stroke="#222" stroke-width="0.9"/>
<text x="293" y="128.1" font-size="5.2" fill="#111" text-anchor="end" style="font-family:'Liberation Serif',serif;font-weight:bold">80</text>
<line x1="294.6" y1="112.9" x2="295.9" y2="112.9" stroke="#222" stroke-width="0.9"/>
<text x="293" y="114.7" font-size="5.2" fill="#111" text-anchor="end" style="font-family:'Liberation Serif',serif;font-weight:bold">100</text>
<line x1="376.2" y1="181" x2="377.5" y2="181" stroke="#f0953a" stroke-width="0.9"/>
<text x="380.1" y="182.8" font-size="5.2" fill="#f0953a" text-anchor="start" style="font-family:'Liberation Serif',serif;font-weight:bold">300</text>
<line x1="376.2" y1="171.8" x2="377.5" y2="171.8" stroke="#f0953a" stroke-width="0.9"/>
<text x="380.1" y="173.6" font-size="5.2" fill="#f0953a" text-anchor="start" style="font-family:'Liberation Serif',serif;font-weight:bold">400</text>
<line x1="376.2" y1="162.6" x2="377.5" y2="162.6" stroke="#f0953a" stroke-width="0.9"/>
<text x="380.1" y="164.4" font-size="5.2" fill="#f0953a" text-anchor="start" style="font-family:'Liberation Serif',serif;font-weight:bold">500</text>
<line x1="376.2" y1="153.3" x2="377.5" y2="153.3" stroke="#f0953a" stroke-width="0.9"/>
<text x="380.1" y="155.1" font-size="5.2" fill="#f0953a" text-anchor="start" style="font-family:'Liberation Serif',serif;font-weight:bold">600</text>
<line x1="376.2" y1="144.1" x2="377.5" y2="144.1" stroke="#f0953a" stroke-width="0.9"/>
<text x="380.1" y="145.9" font-size="5.2" fill="#f0953a" text-anchor="start" style="font-family:'Liberation Serif',serif;font-weight:bold">700</text>
<line x1="376.2" y1="134.9" x2="377.5" y2="134.9" stroke="#f0953a" stroke-width="0.9"/>
<text x="380.1" y="136.7" font-size="5.2" fill="#f0953a" text-anchor="start" style="font-family:'Liberation Serif',serif;font-weight:bold">800</text>
<line x1="376.2" y1="125.7" x2="377.5" y2="125.7" stroke="#f0953a" stroke-width="0.9"/>
<text x="380.1" y="127.5" font-size="5.2" fill="#f0953a" text-anchor="start" style="font-family:'Liberation Serif',serif;font-weight:bold">900</text>
<line x1="376.2" y1="116.4" x2="377.5" y2="116.4" stroke="#f0953a" stroke-width="0.9"/>
<text x="380.1" y="118.2" font-size="5.2" fill="#f0953a" text-anchor="start" style="font-family:'Liberation Serif',serif;font-weight:bold">1000</text>
<line x1="297.9" y1="183.5" x2="297.9" y2="182.2" stroke="#222" stroke-width="0.9"/>
<text x="297.9" y="190.1" font-size="5.2" fill="#111" text-anchor="middle" style="font-family:'Liberation Serif',serif;font-weight:bold">0</text>
<line x1="311.2" y1="183.5" x2="311.2" y2="182.2" stroke="#222" stroke-width="0.9"/>
<text x="311.2" y="190.1" font-size="5.2" fill="#111" text-anchor="middle" style="font-family:'Liberation Serif',serif;font-weight:bold">20</text>
<line x1="324.4" y1="183.5" x2="324.4" y2="182.2" stroke="#222" stroke-width="0.9"/>
<text x="324.4" y="190.1" font-size="5.2" fill="#111" text-anchor="middle" style="font-family:'Liberation Serif',serif;font-weight:bold">40</text>
<line x1="337.7" y1="183.5" x2="337.7" y2="182.2" stroke="#222" stroke-width="0.9"/>
<text x="337.7" y="190.1" font-size="5.2" fill="#111" text-anchor="middle" style="font-family:'Liberation Serif',serif;font-weight:bold">60</text>
<line x1="351" y1="183.5" x2="351" y2="182.2" stroke="#222" stroke-width="0.9"/>
<text x="351" y="190.1" font-size="5.2" fill="#111" text-anchor="middle" style="font-family:'Liberation Serif',serif;font-weight:bold">80</text>
<line x1="364.2" y1="183.5" x2="364.2" y2="182.2" stroke="#222" stroke-width="0.9"/>
<text x="364.2" y="190.1" font-size="5.2" fill="#111" text-anchor="middle" style="font-family:'Liberation Serif',serif;font-weight:bold">100</text>
<line x1="377.5" y1="183.5" x2="377.5" y2="182.2" stroke="#222" stroke-width="0.9"/>
<text x="377.5" y="190.1" font-size="5.2" fill="#111" text-anchor="middle" style="font-family:'Liberation Serif',serif;font-weight:bold">120</text>
<text x="283.4" y="147" font-size="7.2" fill="#111" text-anchor="middle" transform="rotate(-90 283.4 147)" style="font-family:'Liberation Serif',serif;font-weight:bold">Phase ratio [%]</text>
<text x="394.3" y="146.2" font-size="6.8" fill="#f0953a" text-anchor="middle" transform="rotate(-90 394.3 146.2)" style="font-family:'Liberation Serif',serif;font-weight:bold">Temperature [K]</text>
<text x="338.2" y="195" font-size="6.4" fill="#111" text-anchor="middle" style="font-family:'Liberation Serif',serif;font-weight:bold">Time [s]</text>
<text x="350.1" y="124.7" font-size="8.3" fill="#111" text-anchor="start" style="font-family:'Liberation Serif',serif;font-weight:bold">Y: 3%</text>
<polyline points="420.9,181.4 429.2,128.2 440.1,128.2 500.7,178.2" fill="none" stroke="#de8f58" stroke-width="1.2" stroke-linejoin="round" stroke-dasharray="3.6,1.3,1,1.3"/>
<polyline points="420.9,180.5 421.3,180.5 421.6,180.5 421.9,180.5 422.3,180.5 422.6,180.5 422.9,180.5 423.3,180.5 423.6,180.5 423.9,180.5 424.2,180.5 424.6,180.5 424.9,180.5 425.2,180.5 425.6,180.5 425.9,180.5 426.2,180.5 426.6,180.5 426.9,180.5 427.2,180.5 427.6,180.5 427.9,180.4 428.2,180.3 428.6,180.2 428.9,180 429.2,179.8 429.6,179.6 429.9,179.3 430.2,179.1 430.6,178.8 430.9,178.6 431.2,178.3 431.6,178.1 431.9,177.8 432.2,177.6 432.6,177.3 432.9,177.1 433.2,176.9 433.6,176.6 433.9,176.4 434.2,176.1 434.6,175.8 434.9,175.5 435.2,175.3 435.5,175 435.9,174.7 436.2,174.4 436.5,174.2 436.9,173.9 437.2,173.7 437.5,173.4 437.9,173.2 438.2,173 438.5,172.8 438.9,172.7 439.2,172.5 439.5,172.3 439.9,172.2 440.2,172 440.5,171.8 440.9,171.7 441.2,171.5 441.5,171.4 441.9,171.2 442.2,171.1 442.5,171 442.9,170.9 443.2,170.8 443.5,170.7 443.9,170.6 444.2,170.6 444.5,170.5 444.9,170.5 445.2,170.5 445.5,170.5 445.9,170.5 446.2,170.5 446.5,170.4 446.9,170.4 447.2,170.4 447.5,170.4 447.8,170.4 448.2,170.4 448.5,170.4 448.8,170.4 449.2,170.4 449.5,170.4 449.8,170.4 450.2,170.4 450.5,170.4 450.8,170.4 451.2,170.4 451.5,170.4 451.8,170.4 452.2,170.4 452.5,170.4 452.8,170.4 453.2,170.4 453.5,170.4 453.8,170.4 454.2,170.4 457.5,170.4 460.8,170.4 464.1,170.4 467.5,170.4 470.8,170.4 474.1,170.4 477.4,170.4 480.8,170.4 484.1,170.4 487.4,170.4 490.7,170.4 494.1,170.4 497.4,170.4 500.7,170.4" fill="none" stroke="#3a6cbc" stroke-width="1.2" stroke-linejoin="round"/>
<polyline points="420.9,180.5 421.3,180.5 421.6,180.5 421.9,180.5 422.3,180.5 422.6,180.5 422.9,180.5 423.3,180.5 423.6,180.5 423.9,180.5 424.2,180.5 424.6,180.5 424.9,180.5 425.2,180.5 425.6,180.5 425.9,180.4 426.2,179.7 426.6,178.5 426.9,176.9 427.2,175.1 427.6,173.1 427.9,171.1 428.2,169.1 428.6,166.7 428.9,163.9 429.2,160.9 429.6,157.8 429.9,154.7 430.2,151.8 430.6,149.2 430.9,146.6 431.2,144.1 431.6,141.7 431.9,139.3 432.2,137.1 432.6,135.2 432.9,133.7 433.2,132.3 433.6,131.1 433.9,129.9 434.2,128.9 434.6,128.1 434.9,127.3 435.2,126.7 435.5,126.1 435.9,125.5 436.2,125 436.5,124.5 436.9,124.1 437.2,123.8 437.5,123.6 437.9,123.5 438.2,123.5 438.5,123.6 438.9,123.6 439.2,123.7 439.5,123.8 439.9,123.9 440.2,124 440.5,124 440.9,124 441.2,124.1 441.5,124.1 441.9,124.1 442.2,124.1 442.5,124.1 442.9,124.1 443.2,124.1 443.5,124.1 443.9,124.1 444.2,124.1 444.5,124.1 444.9,124.2 445.2,124.2 445.5,124.2 445.9,124.2 446.2,124.2 446.5,124.2 446.9,124.2 447.2,124.2 447.5,124.2 447.8,124.2 448.2,124.2 448.5,124.2 448.8,124.2 449.2,124.2 449.5,124.2 449.8,124.2 450.2,124.2 450.5,124.2 450.8,124.2 451.2,124.2 451.5,124.2 451.8,124.2 452.2,124.2 452.5,124.2 452.8,124.2 453.2,124.2 453.5,124.2 453.8,124.2 454.2,124.2 457.5,124.2 460.8,124.2 464.1,124.2 467.5,124.2 470.8,124.2 474.1,124.2 477.4,124.2 480.8,124.2 484.1,124.2 487.4,124.2 490.7,124.2 494.1,124.2 497.4,124.2 500.7,124.2" fill="none" stroke="#cc3d62" stroke-width="1.2" stroke-linejoin="round"/>
<polyline points="420.9,112.9 421.3,112.9 421.6,112.9 421.9,112.9 422.3,112.9 422.6,112.9 422.9,112.9 423.3,112.9 423.6,112.9 423.9,112.9 424.2,112.9 424.6,112.9 424.9,112.9 425.2,112.9 425.6,112.9 425.9,113.3 426.2,114.2 426.6,115.5 426.9,117.3 427.2,119.6 427.6,122.2 427.9,124.9 428.2,127.7 428.6,130.8 428.9,134.1 429.2,137.4 429.6,141 429.9,144.7 430.2,148.2 430.6,151.2 430.9,154 431.2,156.4 431.6,158.2 431.9,159.7 432.2,161 432.6,162.1 432.9,163.2 433.2,164.1 433.6,165 433.9,165.8 434.2,166.6 434.6,167.4 434.9,168.1 435.2,168.8 435.5,169.5 435.9,170.1 436.2,170.6 436.5,171.2 436.9,171.6 437.2,172.1 437.5,172.5 437.9,172.9 438.2,173.3 438.5,173.8 438.9,174.2 439.2,174.5 439.5,174.9 439.9,175.3 440.2,175.7 440.5,176 440.9,176.3 441.2,176.7 441.5,177 441.9,177.2 442.2,177.5 442.5,177.7 442.9,178 443.2,178.2 443.5,178.4 443.9,178.5 444.2,178.7 444.5,178.8 444.9,178.9 445.2,178.9 445.5,179 445.9,179.1 446.2,179.2 446.5,179.3 446.9,179.3 447.2,179.4 447.5,179.5 447.8,179.5 448.2,179.6 448.5,179.7 448.8,179.7 449.2,179.8 449.5,179.8 449.8,179.9 450.2,179.9 450.5,179.9 450.8,180 451.2,180 451.5,180.1 451.8,180.1 452.2,180.1 452.5,180.1 452.8,180.1 453.2,180.2 453.5,180.2 453.8,180.2 454.2,180.2 457.5,180.2 460.8,180.2 464.1,180.2 467.5,180.2 470.8,180.2 474.1,180.2 477.4,180.2 480.8,180.2 484.1,180.2 487.4,180.2 490.7,180.2 494.1,180.2 497.4,180.2 500.7,180.2" fill="none" stroke="#3a3a3a" stroke-width="1.2" stroke-linejoin="round"/>
<polyline points="420.9,180.5 421.3,180.5 421.6,180.5 421.9,180.5 422.3,180.5 422.6,180.5 422.9,180.5 423.3,180.5 423.6,180.5 423.9,180.5 424.2,180.5 424.6,180.5 424.9,180.5 425.2,180.5 425.6,180.5 425.9,180.5 426.2,180.5 426.6,180.5 426.9,180.5 427.2,180.5 427.6,180.5 427.9,180.5 428.2,180.5 428.6,180.5 428.9,180.5 429.2,180.5 429.6,180.5 429.9,180.5 430.2,180.5 430.6,180.5 430.9,180.5 431.2,180.5 431.6,180.5 431.9,180.5 432.2,180.5 432.6,180.5 432.9,180.5 433.2,180.5 433.6,180.5 433.9,180.5 434.2,180.5 434.6,180.5 434.9,180.5 435.2,180.5 435.5,180.5 435.9,180.5 436.2,180.5 436.5,180.5 436.9,180.5 437.2,180.5 437.5,180.5 437.9,180.5 438.2,180.5 438.5,180.5 438.9,180.5 439.2,180.5 439.5,180.5 439.9,180.5 440.2,180.5 440.5,180.5 440.9,180.5 441.2,180.5 441.5,180.5 441.9,180.5 442.2,180.5 442.5,180.5 442.9,180.5 443.2,180.5 443.5,180.5 443.9,180.5 444.2,180.5 444.5,180.5 444.9,180.5 445.2,180.5 445.5,180.5 445.9,180.5 446.2,180.5 446.5,180.5 446.9,180.5 447.2,180.5 447.5,180.5 447.8,180.5 448.2,180.5 448.5,180.5 448.8,180.5 449.2,180.5 449.5,180.5 449.8,180.5 450.2,180.5 450.5,180.5 450.8,180.5 451.2,180.5 451.5,180.5 451.8,180.5 452.2,180.5 452.5,180.5 452.8,180.5 453.2,180.5 453.5,180.5 453.8,180.5 454.2,180.5 457.5,180.5 460.8,180.5 464.1,180.5 467.5,180.5 470.8,180.5 474.1,180.5 477.4,180.5 480.8,180.5 484.1,180.5 487.4,180.5 490.7,180.5 494.1,180.5 497.4,180.5 500.7,180.5" fill="none" stroke="#46a678" stroke-width="1.5" stroke-linejoin="round"/>
<line x1="417.6" y1="109.5" x2="500.7" y2="109.5" stroke="#222" stroke-width="1.2"/>
<line x1="417.1" y1="183.9" x2="500.7" y2="183.9" stroke="#222" stroke-width="1.2"/>
<line x1="417.6" y1="109.5" x2="417.6" y2="183.9" stroke="#222" stroke-width="1.2"/>
<line x1="500.7" y1="109.5" x2="500.7" y2="184.6" stroke="#f0a050" stroke-width="1.2"/>
<line x1="417.6" y1="180.5" x2="418.9" y2="180.5" stroke="#222" stroke-width="0.9"/>
<text x="416" y="182.3" font-size="5.2" fill="#111" text-anchor="end" style="font-family:'Liberation Serif',serif;font-weight:bold">0</text>
<line x1="417.6" y1="167" x2="418.9" y2="167" stroke="#222" stroke-width="0.9"/>
<text x="416" y="168.8" font-size="5.2" fill="#111" text-anchor="end" style="font-family:'Liberation Serif',serif;font-weight:bold">20</text>
<line x1="417.6" y1="153.5" x2="418.9" y2="153.5" stroke="#222" stroke-width="0.9"/>
<text x="416" y="155.3" font-size="5.2" fill="#111" text-anchor="end" style="font-family:'Liberation Serif',serif;font-weight:bold">40</text>
<line x1="417.6" y1="139.9" x2="418.9" y2="139.9" stroke="#222" stroke-width="0.9"/>
<text x="416" y="141.7" font-size="5.2" fill="#111" text-anchor="end" style="font-family:'Liberation Serif',serif;font-weight:bold">60</text>
<line x1="417.6" y1="126.4" x2="418.9" y2="126.4" stroke="#222" stroke-width="0.9"/>
<text x="416" y="128.2" font-size="5.2" fill="#111" text-anchor="end" style="font-family:'Liberation Serif',serif;font-weight:bold">80</text>
<line x1="417.6" y1="112.9" x2="418.9" y2="112.9" stroke="#222" stroke-width="0.9"/>
<text x="416" y="114.7" font-size="5.2" fill="#111" text-anchor="end" style="font-family:'Liberation Serif',serif;font-weight:bold">100</text>
<line x1="499.4" y1="181.4" x2="500.7" y2="181.4" stroke="#f0953a" stroke-width="0.9"/>
<text x="503.3" y="183.2" font-size="5.2" fill="#f0953a" text-anchor="start" style="font-family:'Liberation Serif',serif;font-weight:bold">300</text>
<line x1="499.4" y1="172.1" x2="500.7" y2="172.1" stroke="#f0953a" stroke-width="0.9"/>
<text x="503.3" y="173.9" font-size="5.2" fill="#f0953a" text-anchor="start" style="font-family:'Liberation Serif',serif;font-weight:bold">400</text>
<line x1="499.4" y1="162.8" x2="500.7" y2="162.8" stroke="#f0953a" stroke-width="0.9"/>
<text x="503.3" y="164.6" font-size="5.2" fill="#f0953a" text-anchor="start" style="font-family:'Liberation Serif',serif;font-weight:bold">500</text>
<line x1="499.4" y1="153.6" x2="500.7" y2="153.6" stroke="#f0953a" stroke-width="0.9"/>
<text x="503.3" y="155.4" font-size="5.2" fill="#f0953a" text-anchor="start" style="font-family:'Liberation Serif',serif;font-weight:bold">600</text>
<line x1="499.4" y1="144.3" x2="500.7" y2="144.3" stroke="#f0953a" stroke-width="0.9"/>
<text x="503.3" y="146.1" font-size="5.2" fill="#f0953a" text-anchor="start" style="font-family:'Liberation Serif',serif;font-weight:bold">700</text>
<line x1="499.4" y1="135" x2="500.7" y2="135" stroke="#f0953a" stroke-width="0.9"/>
<text x="503.3" y="136.8" font-size="5.2" fill="#f0953a" text-anchor="start" style="font-family:'Liberation Serif',serif;font-weight:bold">800</text>
<line x1="499.4" y1="125.7" x2="500.7" y2="125.7" stroke="#f0953a" stroke-width="0.9"/>
<text x="503.3" y="127.5" font-size="5.2" fill="#f0953a" text-anchor="start" style="font-family:'Liberation Serif',serif;font-weight:bold">900</text>
<line x1="499.4" y1="116.5" x2="500.7" y2="116.5" stroke="#f0953a" stroke-width="0.9"/>
<text x="503.3" y="118.3" font-size="5.2" fill="#f0953a" text-anchor="start" style="font-family:'Liberation Serif',serif;font-weight:bold">1000</text>
<line x1="420.9" y1="183.9" x2="420.9" y2="182.6" stroke="#222" stroke-width="0.9"/>
<text x="420.9" y="190.5" font-size="5.2" fill="#111" text-anchor="middle" style="font-family:'Liberation Serif',serif;font-weight:bold">0</text>
<line x1="434.2" y1="183.9" x2="434.2" y2="182.6" stroke="#222" stroke-width="0.9"/>
<text x="434.2" y="190.5" font-size="5.2" fill="#111" text-anchor="middle" style="font-family:'Liberation Serif',serif;font-weight:bold">20</text>
<line x1="447.5" y1="183.9" x2="447.5" y2="182.6" stroke="#222" stroke-width="0.9"/>
<text x="447.5" y="190.5" font-size="5.2" fill="#111" text-anchor="middle" style="font-family:'Liberation Serif',serif;font-weight:bold">40</text>
<line x1="460.8" y1="183.9" x2="460.8" y2="182.6" stroke="#222" stroke-width="0.9"/>
<text x="460.8" y="190.5" font-size="5.2" fill="#111" text-anchor="middle" style="font-family:'Liberation Serif',serif;font-weight:bold">60</text>
<line x1="474.1" y1="183.9" x2="474.1" y2="182.6" stroke="#222" stroke-width="0.9"/>
<text x="474.1" y="190.5" font-size="5.2" fill="#111" text-anchor="middle" style="font-family:'Liberation Serif',serif;font-weight:bold">80</text>
<line x1="487.4" y1="183.9" x2="487.4" y2="182.6" stroke="#222" stroke-width="0.9"/>
<text x="487.4" y="190.5" font-size="5.2" fill="#111" text-anchor="middle" style="font-family:'Liberation Serif',serif;font-weight:bold">100</text>
<line x1="500.7" y1="183.9" x2="500.7" y2="182.6" stroke="#222" stroke-width="0.9"/>
<text x="500.7" y="190.5" font-size="5.2" fill="#111" text-anchor="middle" style="font-family:'Liberation Serif',serif;font-weight:bold">120</text>
<text x="406.4" y="147.2" font-size="7.2" fill="#111" text-anchor="middle" transform="rotate(-90 406.4 147.2)" style="font-family:'Liberation Serif',serif;font-weight:bold">Phase ratio [%]</text>
<text x="517.5" y="146.4" font-size="6.8" fill="#f0953a" text-anchor="middle" transform="rotate(-90 517.5 146.4)" style="font-family:'Liberation Serif',serif;font-weight:bold">Temperature [K]</text>
<text x="461.3" y="195.4" font-size="6.4" fill="#111" text-anchor="middle" style="font-family:'Liberation Serif',serif;font-weight:bold">Time [s]</text>
<text x="472" y="119.7" font-size="8.3" fill="#111" text-anchor="start" style="font-family:'Liberation Serif',serif;font-weight:bold">Y: 7%</text>
<polyline points="173.5,285.6 181.5,222.8 195.3,222.8 253.1,271" fill="none" stroke="#de8f58" stroke-width="1.2" stroke-linejoin="round" stroke-dasharray="3.6,1.3,1,1.3"/>
<polyline points="173.5,284.7 173.8,284.7 174.2,284.7 174.5,284.7 174.8,284.7 175.2,284.7 175.5,284.7 175.8,284.7 176.2,284.7 176.5,284.7 176.8,284.7 177.2,284.7 177.5,284.7 177.8,284.7 178.2,284.7 178.5,284.3 178.8,282.9 179.2,281.1 179.5,279.3 179.8,277.2 180.1,274.7 180.5,273 180.8,272.7 181.1,274 181.5,276 181.8,277.9 182.1,279.7 182.5,281.6 182.8,283.3 183.1,284.3 183.5,284.5 183.8,284.6 184.1,284.7 184.5,284.7 184.8,284.7 185.1,284.7 185.5,284.7 185.8,284.7 186.1,284.7 186.4,284.7 186.8,284.7 187.1,284.7 187.4,284.7 187.8,284.7 188.1,284.7 188.4,284.7 188.8,284.7 189.1,284.7 189.4,284.7 189.8,284.7 190.1,284.7 190.4,284.7 190.8,284.7 191.1,284.7 191.4,284.7 191.8,284.7 192.1,284.7 192.4,284.7 192.7,284.7 193.1,284.7 193.4,284.7 193.7,284.7 194.1,284.7 194.4,284.7 194.7,284.7 195.1,284.7 195.4,284.7 195.7,284.7 196.1,284.7 196.4,284.7 196.7,284.7 197.1,284.7 197.4,284.7 197.7,284.7 198.1,284.7 198.4,284.7 198.7,284.7 199,284.7 199.4,284.7 199.7,284.7 200,284.7 200.4,284.7 200.7,284.7 201,284.7 201.4,284.7 201.7,284.7 202,284.7 202.4,284.7 202.7,284.7 203,284.7 203.4,284.7 203.7,284.7 204,284.7 204.4,284.7 204.7,284.7 205,284.7 205.3,284.7 205.7,284.7 206,284.7 206.3,284.7 206.7,284.7 210,284.7 213.3,284.7 216.6,284.7 219.9,284.7 223.3,284.7 226.6,284.7 229.9,284.7 233.2,284.7 236.5,284.7 239.8,284.7 243.2,284.7 246.5,284.7 249.8,284.7 253.1,284.7" fill="none" stroke="#cc3d62" stroke-width="1.1" stroke-linejoin="round"/>
<polyline points="173.5,284.7 173.8,284.7 174.2,284.7 174.5,284.7 174.8,284.7 175.2,284.7 175.5,284.7 175.8,284.7 176.2,284.7 176.5,284.7 176.8,284.7 177.2,284.7 177.5,284.7 177.8,284.7 178.2,284.7 178.5,284.7 178.8,284.7 179.2,284.7 179.5,284.7 179.8,284.7 180.1,284.7 180.5,284.7 180.8,284.7 181.1,284.7 181.5,281.7 181.8,275.2 182.1,268.2 182.5,259.2 182.8,251.2 183.1,246.2 183.5,242.2 183.8,238.9 184.1,236.2 184.5,233.9 184.8,231.8 185.1,229.9 185.5,228.2 185.8,226.8 186.1,225.7 186.4,224.9 186.8,224 187.1,223.3 187.4,222.6 187.8,222 188.1,221.5 188.4,221 188.8,220.5 189.1,220.2 189.4,219.8 189.8,219.5 190.1,219.3 190.4,219 190.8,218.7 191.1,218.5 191.4,218.3 191.8,218.1 192.1,217.9 192.4,217.7 192.7,217.6 193.1,217.4 193.4,217.3 193.7,217.2 194.1,217.2 194.4,217.1 194.7,217 195.1,217 195.4,216.9 195.7,216.9 196.1,216.8 196.4,216.8 196.7,216.7 197.1,216.7 197.4,216.7 197.7,216.6 198.1,216.6 198.4,216.6 198.7,216.6 199,216.5 199.4,216.5 199.7,216.5 200,216.5 200.4,216.5 200.7,216.5 201,216.5 201.4,216.5 201.7,216.5 202,216.5 202.4,216.5 202.7,216.5 203,216.5 203.4,216.5 203.7,216.5 204,216.5 204.4,216.5 204.7,216.5 205,216.5 205.3,216.5 205.7,216.5 206,216.5 206.3,216.5 206.7,216.5 210,216.5 213.3,216.5 216.6,216.5 219.9,216.5 223.3,216.5 226.6,216.5 229.9,216.5 233.2,216.5 236.5,216.5 239.8,216.5 243.2,216.5 246.5,216.5 249.8,216.5 253.1,216.5" fill="none" stroke="#46a678" stroke-width="1.2" stroke-linejoin="round"/>
<polyline points="173.5,216.7 173.8,216.7 174.2,216.7 174.5,216.7 174.8,216.7 175.2,216.7 175.5,216.7 175.8,216.7 176.2,216.7 176.5,216.7 176.8,216.7 177.2,216.7 177.5,216.7 177.8,216.7 178.2,216.7 178.5,216.8 178.8,217.3 179.2,218.1 179.5,219.2 179.8,220.9 180.1,223.9 180.5,227.5 180.8,231 181.1,234.9 181.5,239.3 181.8,244.2 182.1,250 182.5,257.9 182.8,264.9 183.1,270.5 183.5,273 183.8,274.7 184.1,275.9 184.5,276.7 184.8,277.3 185.1,277.9 185.5,278.4 185.8,278.9 186.1,279.5 186.4,280 186.8,280.6 187.1,281 187.4,281.3 187.8,281.6 188.1,281.8 188.4,282 188.8,282.2 189.1,282.4 189.4,282.5 189.8,282.7 190.1,282.8 190.4,282.9 190.8,283 191.1,283.1 191.4,283.1 191.8,283.2 192.1,283.3 192.4,283.4 192.7,283.4 193.1,283.5 193.4,283.5 193.7,283.6 194.1,283.7 194.4,283.7 194.7,283.8 195.1,283.8 195.4,283.9 195.7,283.9 196.1,284 196.4,284 196.7,284.1 197.1,284.1 197.4,284.2 197.7,284.2 198.1,284.2 198.4,284.3 198.7,284.3 199,284.3 199.4,284.3 199.7,284.4 200,284.4 200.4,284.4 200.7,284.4 201,284.4 201.4,284.4 201.7,284.4 202,284.4 202.4,284.4 202.7,284.4 203,284.4 203.4,284.4 203.7,284.4 204,284.4 204.4,284.4 204.7,284.4 205,284.4 205.3,284.4 205.7,284.4 206,284.4 206.3,284.4 206.7,284.4 210,284.4 213.3,284.5 216.6,284.5 219.9,284.5 223.3,284.5 226.6,284.5 229.9,284.5 233.2,284.5 236.5,284.5 239.8,284.5 243.2,284.5 246.5,284.5 249.8,284.6 253.1,284.6" fill="none" stroke="#3a3a3a" stroke-width="1.2" stroke-linejoin="round"/>
<polyline points="173.5,284.7 173.8,284.7 174.2,284.7 174.5,284.7 174.8,284.7 175.2,284.7 175.5,284.7 175.8,284.7 176.2,284.7 176.5,284.7 176.8,284.7 177.2,284.7 177.5,284.7 177.8,284.7 178.2,284.7 178.5,284.7 178.8,284.7 179.2,284.7 179.5,284.7 179.8,284.7 180.1,284.7 180.5,284.7 180.8,284.7 181.1,284.7 181.5,284.7 181.8,284.7 182.1,284.7 182.5,284.7 182.8,284.7 183.1,284.7 183.5,284.7 183.8,284.7 184.1,284.7 184.5,284.7 184.8,284.7 185.1,284.7 185.5,284.7 185.8,284.7 186.1,284.7 186.4,284.7 186.8,284.7 187.1,284.7 187.4,284.7 187.8,284.7 188.1,284.7 188.4,284.7 188.8,284.7 189.1,284.7 189.4,284.7 189.8,284.7 190.1,284.7 190.4,284.7 190.8,284.7 191.1,284.7 191.4,284.7 191.8,284.7 192.1,284.7 192.4,284.7 192.7,284.7 193.1,284.7 193.4,284.7 193.7,284.7 194.1,284.7 194.4,284.7 194.7,284.7 195.1,284.7 195.4,284.7 195.7,284.7 196.1,284.7 196.4,284.7 196.7,284.7 197.1,284.7 197.4,284.7 197.7,284.7 198.1,284.7 198.4,284.7 198.7,284.7 199,284.7 199.4,284.7 199.7,284.7 200,284.7 200.4,284.7 200.7,284.7 201,284.7 201.4,284.7 201.7,284.7 202,284.7 202.4,284.7 202.7,284.7 203,284.7 203.4,284.7 203.7,284.7 204,284.7 204.4,284.7 204.7,284.7 205,284.7 205.3,284.7 205.7,284.7 206,284.7 206.3,284.7 206.7,284.7 210,284.7 213.3,284.7 216.6,284.7 219.9,284.7 223.3,284.7 226.6,284.7 229.9,284.7 233.2,284.7 236.5,284.7 239.8,284.7 243.2,284.7 246.5,284.7 249.8,284.7 253.1,284.7" fill="none" stroke="#3a6cbc" stroke-width="1.3" stroke-linejoin="round"/>
<line x1="170.2" y1="213.3" x2="253.1" y2="213.3" stroke="#222" stroke-width="1.2"/>
<line x1="169.7" y1="288.1" x2="253.1" y2="288.1" stroke="#222" stroke-width="1.2"/>
<line x1="170.2" y1="213.3" x2="170.2" y2="288.1" stroke="#222" stroke-width="1.2"/>
<line x1="253.1" y1="213.3" x2="253.1" y2="288.8" stroke="#f0a050" stroke-width="1.2"/>
<line x1="170.2" y1="284.7" x2="171.5" y2="284.7" stroke="#222" stroke-width="0.9"/>
<text x="168.6" y="286.5" font-size="5.2" fill="#111" text-anchor="end" style="font-family:'Liberation Serif',serif;font-weight:bold">0</text>
<line x1="170.2" y1="271.1" x2="171.5" y2="271.1" stroke="#222" stroke-width="0.9"/>
<text x="168.6" y="272.9" font-size="5.2" fill="#111" text-anchor="end" style="font-family:'Liberation Serif',serif;font-weight:bold">20</text>
<line x1="170.2" y1="257.5" x2="171.5" y2="257.5" stroke="#222" stroke-width="0.9"/>
<text x="168.6" y="259.3" font-size="5.2" fill="#111" text-anchor="end" style="font-family:'Liberation Serif',serif;font-weight:bold">40</text>
<line x1="170.2" y1="243.9" x2="171.5" y2="243.9" stroke="#222" stroke-width="0.9"/>
<text x="168.6" y="245.7" font-size="5.2" fill="#111" text-anchor="end" style="font-family:'Liberation Serif',serif;font-weight:bold">60</text>
<line x1="170.2" y1="230.3" x2="171.5" y2="230.3" stroke="#222" stroke-width="0.9"/>
<text x="168.6" y="232.1" font-size="5.2" fill="#111" text-anchor="end" style="font-family:'Liberation Serif',serif;font-weight:bold">80</text>
<line x1="170.2" y1="216.7" x2="171.5" y2="216.7" stroke="#222" stroke-width="0.9"/>
<text x="168.6" y="218.5" font-size="5.2" fill="#111" text-anchor="end" style="font-family:'Liberation Serif',serif;font-weight:bold">100</text>
<line x1="251.8" y1="285.6" x2="253.1" y2="285.6" stroke="#f0953a" stroke-width="0.9"/>
<text x="255.7" y="287.4" font-size="5.2" fill="#f0953a" text-anchor="start" style="font-family:'Liberation Serif',serif;font-weight:bold">300</text>
<line x1="251.8" y1="276.3" x2="253.1" y2="276.3" stroke="#f0953a" stroke-width="0.9"/>
<text x="255.7" y="278.1" font-size="5.2" fill="#f0953a" text-anchor="start" style="font-family:'Liberation Serif',serif;font-weight:bold">400</text>
<line x1="251.8" y1="266.9" x2="253.1" y2="266.9" stroke="#f0953a" stroke-width="0.9"/>
<text x="255.7" y="268.7" font-size="5.2" fill="#f0953a" text-anchor="start" style="font-family:'Liberation Serif',serif;font-weight:bold">500</text>
<line x1="251.8" y1="257.6" x2="253.1" y2="257.6" stroke="#f0953a" stroke-width="0.9"/>
<text x="255.7" y="259.4" font-size="5.2" fill="#f0953a" text-anchor="start" style="font-family:'Liberation Serif',serif;font-weight:bold">600</text>
<line x1="251.8" y1="248.3" x2="253.1" y2="248.3" stroke="#f0953a" stroke-width="0.9"/>
<text x="255.7" y="250.1" font-size="5.2" fill="#f0953a" text-anchor="start" style="font-family:'Liberation Serif',serif;font-weight:bold">700</text>
<line x1="251.8" y1="239" x2="253.1" y2="239" stroke="#f0953a" stroke-width="0.9"/>
<text x="255.7" y="240.8" font-size="5.2" fill="#f0953a" text-anchor="start" style="font-family:'Liberation Serif',serif;font-weight:bold">800</text>
<line x1="251.8" y1="229.6" x2="253.1" y2="229.6" stroke="#f0953a" stroke-width="0.9"/>
<text x="255.7" y="231.4" font-size="5.2" fill="#f0953a" text-anchor="start" style="font-family:'Liberation Serif',serif;font-weight:bold">900</text>
<line x1="251.8" y1="220.3" x2="253.1" y2="220.3" stroke="#f0953a" stroke-width="0.9"/>
<text x="255.7" y="222.1" font-size="5.2" fill="#f0953a" text-anchor="start" style="font-family:'Liberation Serif',serif;font-weight:bold">1000</text>
<line x1="173.5" y1="288.1" x2="173.5" y2="286.8" stroke="#222" stroke-width="0.9"/>
<text x="173.5" y="294.7" font-size="5.2" fill="#111" text-anchor="middle" style="font-family:'Liberation Serif',serif;font-weight:bold">0</text>
<line x1="186.8" y1="288.1" x2="186.8" y2="286.8" stroke="#222" stroke-width="0.9"/>
<text x="186.8" y="294.7" font-size="5.2" fill="#111" text-anchor="middle" style="font-family:'Liberation Serif',serif;font-weight:bold">20</text>
<line x1="200" y1="288.1" x2="200" y2="286.8" stroke="#222" stroke-width="0.9"/>
<text x="200" y="294.7" font-size="5.2" fill="#111" text-anchor="middle" style="font-family:'Liberation Serif',serif;font-weight:bold">40</text>
<line x1="213.3" y1="288.1" x2="213.3" y2="286.8" stroke="#222" stroke-width="0.9"/>
<text x="213.3" y="294.7" font-size="5.2" fill="#111" text-anchor="middle" style="font-family:'Liberation Serif',serif;font-weight:bold">60</text>
<line x1="226.6" y1="288.1" x2="226.6" y2="286.8" stroke="#222" stroke-width="0.9"/>
<text x="226.6" y="294.7" font-size="5.2" fill="#111" text-anchor="middle" style="font-family:'Liberation Serif',serif;font-weight:bold">80</text>
<line x1="239.8" y1="288.1" x2="239.8" y2="286.8" stroke="#222" stroke-width="0.9"/>
<text x="239.8" y="294.7" font-size="5.2" fill="#111" text-anchor="middle" style="font-family:'Liberation Serif',serif;font-weight:bold">100</text>
<line x1="253.1" y1="288.1" x2="253.1" y2="286.8" stroke="#222" stroke-width="0.9"/>
<text x="253.1" y="294.7" font-size="5.2" fill="#111" text-anchor="middle" style="font-family:'Liberation Serif',serif;font-weight:bold">120</text>
<text x="159" y="251.2" font-size="7.2" fill="#111" text-anchor="middle" transform="rotate(-90 159 251.2)" style="font-family:'Liberation Serif',serif;font-weight:bold">Phase ratio [%]</text>
<text x="269.9" y="250.4" font-size="6.8" fill="#f0953a" text-anchor="middle" transform="rotate(-90 269.9 250.4)" style="font-family:'Liberation Serif',serif;font-weight:bold">Temperature [K]</text>
<text x="213.8" y="299.6" font-size="6.4" fill="#111" text-anchor="middle" style="font-family:'Liberation Serif',serif;font-weight:bold">Time [s]</text>
<text x="219.9" y="225.7" font-size="8.3" fill="#111" text-anchor="start" style="font-family:'Liberation Serif',serif;font-weight:bold">Y: 0%</text>
<polyline points="297.9,285 305.8,222 318.9,222 377.7,270" fill="none" stroke="#de8f58" stroke-width="1.2" stroke-linejoin="round" stroke-dasharray="3.6,1.3,1,1.3"/>
<polyline points="297.9,284.1 298.3,284.1 298.6,284.1 298.9,284.1 299.3,284.1 299.6,284.1 299.9,284.1 300.3,284.1 300.6,284.1 300.9,284.1 301.2,284.1 301.6,284.1 301.9,284.1 302.2,284.1 302.6,284.1 302.9,284.1 303.2,284.1 303.6,284 303.9,281.8 304.2,278.1 304.6,274.4 304.9,269.6 305.2,266.5 305.6,268.4 305.9,273.8 306.2,279.6 306.6,284.1 306.9,284.1 307.2,284.1 307.6,284.1 307.9,284.1 308.2,284.1 308.6,284.1 308.9,284.1 309.2,284.1 309.6,284.1 309.9,284.1 310.2,284.1 310.6,284.1 310.9,284.1 311.2,284.1 311.6,284.1 311.9,284.1 312.2,284.1 312.5,284.1 312.9,284.1 313.2,284.1 313.5,284.1 313.9,284.1 314.2,284.1 314.5,284.1 314.9,284.1 315.2,284.1 315.5,284.1 315.9,284.1 316.2,284.1 316.5,284.1 316.9,284.1 317.2,284.1 317.5,284.1 317.9,284.1 318.2,284.1 318.5,284.1 318.9,284.1 319.2,284.1 319.5,284.1 319.9,284.1 320.2,284.1 320.5,284.1 320.9,284.1 321.2,284.1 321.5,284.1 321.9,284.1 322.2,284.1 322.5,284.1 322.9,284.1 323.2,284.1 323.5,284.1 323.9,284.1 324.2,284.1 324.5,284.1 324.8,284.1 325.2,284.1 325.5,284.1 325.8,284.1 326.2,284.1 326.5,284.1 326.8,284.1 327.2,284.1 327.5,284.1 327.8,284.1 328.2,284.1 328.5,284.1 328.8,284.1 329.2,284.1 329.5,284.1 329.8,284.1 330.2,284.1 330.5,284.1 330.8,284.1 331.2,284.1 334.5,284.1 337.8,284.1 341.1,284.1 344.5,284.1 347.8,284.1 351.1,284.1 354.4,284.1 357.8,284.1 361.1,284.1 364.4,284.1 367.7,284.1 371.1,284.1 374.4,284.1 377.7,284.1" fill="none" stroke="#cc3d62" stroke-width="1" stroke-linejoin="round"/>
<polyline points="297.9,284.1 298.3,284.1 298.6,284.1 298.9,284.1 299.3,284.1 299.6,284.1 299.9,284.1 300.3,284.1 300.6,284.1 300.9,284.1 301.2,284.1 301.6,284.1 301.9,284.1 302.2,284.1 302.6,284.1 302.9,284.1 303.2,284.1 303.6,284.1 303.9,284.1 304.2,284.1 304.6,284.1 304.9,284.1 305.2,284.1 305.6,282.5 305.9,270.6 306.2,260.4 306.6,253 306.9,244.6 307.2,238.7 307.6,235.3 307.9,232.8 308.2,230.8 308.6,229.2 308.9,227.8 309.2,226.5 309.6,225.4 309.9,224.4 310.2,223.6 310.6,222.9 310.9,222.3 311.2,221.7 311.6,221.1 311.9,220.6 312.2,220.2 312.5,219.7 312.9,219.4 313.2,219 313.5,218.8 313.9,218.6 314.2,218.4 314.5,218.2 314.9,218 315.2,217.8 315.5,217.6 315.9,217.5 316.2,217.3 316.5,217.2 316.9,217.1 317.2,216.9 317.5,216.8 317.9,216.7 318.2,216.6 318.5,216.6 318.9,216.5 319.2,216.4 319.5,216.4 319.9,216.4 320.2,216.3 320.5,216.3 320.9,216.3 321.2,216.3 321.5,216.2 321.9,216.2 322.2,216.2 322.5,216.2 322.9,216.1 323.2,216.1 323.5,216.1 323.9,216.1 324.2,216.1 324.5,216.1 324.8,216 325.2,216 325.5,216 325.8,216 326.2,216 326.5,216 326.8,216 327.2,216 327.5,216 327.8,216 328.2,216 328.5,216 328.8,216 329.2,216 329.5,216 329.8,216 330.2,216 330.5,216 330.8,216 331.2,216 334.5,216 337.8,216 341.1,216 344.5,216 347.8,216 351.1,216 354.4,216 357.8,216 361.1,216 364.4,216 367.7,216 371.1,216 374.4,216 377.7,216" fill="none" stroke="#3a6cbc" stroke-width="1.3" stroke-linejoin="round"/>
<polyline points="297.9,215.9 298.3,215.9 298.6,215.9 298.9,215.9 299.3,215.9 299.6,215.9 299.9,215.9 300.3,215.9 300.6,215.9 300.9,215.9 301.2,215.9 301.6,215.9 301.9,215.9 302.2,215.9 302.6,215.9 302.9,215.9 303.2,215.9 303.6,216.4 303.9,217.6 304.2,219.2 304.6,221.1 304.9,223.8 305.2,227.3 305.6,231.2 305.9,236 306.2,240.5 306.6,243.7 306.9,246.5 307.2,249.4 307.6,252.8 307.9,256.6 308.2,260.3 308.6,263.5 308.9,266.6 309.2,269.5 309.6,271.7 309.9,273.2 310.2,274.4 310.6,275.5 310.9,276.5 311.2,277.3 311.6,278 311.9,278.7 312.2,279.2 312.5,279.6 312.9,280.1 313.2,280.5 313.5,280.8 313.9,281.2 314.2,281.5 314.5,281.8 314.9,282 315.2,282.3 315.5,282.4 315.9,282.6 316.2,282.7 316.5,282.9 316.9,283 317.2,283.1 317.5,283.2 317.9,283.3 318.2,283.4 318.5,283.5 318.9,283.6 319.2,283.7 319.5,283.8 319.9,283.8 320.2,283.8 320.5,283.9 320.9,283.9 321.2,283.9 321.5,283.9 321.9,283.9 322.2,283.9 322.5,283.9 322.9,283.9 323.2,283.9 323.5,283.9 323.9,283.9 324.2,283.9 324.5,283.9 324.8,283.9 325.2,283.9 325.5,283.9 325.8,283.9 326.2,283.9 326.5,283.9 326.8,283.9 327.2,283.9 327.5,283.9 327.8,283.9 328.2,283.9 328.5,283.9 328.8,283.9 329.2,283.9 329.5,283.9 329.8,283.9 330.2,283.9 330.5,283.9 330.8,283.9 331.2,283.9 334.5,283.9 337.8,283.9 341.1,283.9 344.5,283.9 347.8,283.9 351.1,283.9 354.4,283.9 357.8,283.9 361.1,283.9 364.4,283.9 367.7,283.9 371.1,283.9 374.4,284 377.7,284" fill="none" stroke="#3a3a3a" stroke-width="1.2" stroke-linejoin="round"/>
<polyline points="297.9,284.1 298.3,284.1 298.6,284.1 298.9,284.1 299.3,284.1 299.6,284.1 299.9,284.1 300.3,284.1 300.6,284.1 300.9,284.1 301.2,284.1 301.6,284.1 301.9,284.1 302.2,284.1 302.6,284.1 302.9,284.1 303.2,284.1 303.6,284.1 303.9,284.1 304.2,284.1 304.6,284.1 304.9,284.1 305.2,284.1 305.6,284.1 305.9,284.1 306.2,284.1 306.6,284.1 306.9,284.1 307.2,284.1 307.6,284.1 307.9,284.1 308.2,284.1 308.6,284.1 308.9,284.1 309.2,284.1 309.6,284.1 309.9,284.1 310.2,284.1 310.6,284.1 310.9,284.1 311.2,284.1 311.6,284.1 311.9,284.1 312.2,284.1 312.5,284.1 312.9,284.1 313.2,284.1 313.5,284.1 313.9,284.1 314.2,284.1 314.5,284.1 314.9,284.1 315.2,284.1 315.5,284.1 315.9,284.1 316.2,284.1 316.5,284.1 316.9,284.1 317.2,284.1 317.5,284.1 317.9,284.1 318.2,284.1 318.5,284.1 318.9,284.1 319.2,284.1 319.5,284.1 319.9,284.1 320.2,284.1 320.5,284.1 320.9,284.1 321.2,284.1 321.5,284.1 321.9,284.1 322.2,284.1 322.5,284.1 322.9,284.1 323.2,284.1 323.5,284.1 323.9,284.1 324.2,284.1 324.5,284.1 324.8,284.1 325.2,284.1 325.5,284.1 325.8,284.1 326.2,284.1 326.5,284.1 326.8,284.1 327.2,284.1 327.5,284.1 327.8,284.1 328.2,284.1 328.5,284.1 328.8,284.1 329.2,284.1 329.5,284.1 329.8,284.1 330.2,284.1 330.5,284.1 330.8,284.1 331.2,284.1 334.5,284.1 337.8,284.1 341.1,284.1 344.5,284.1 347.8,284.1 351.1,284.1 354.4,284.1 357.8,284.1 361.1,284.1 364.4,284.1 367.7,284.1 371.1,284.1 374.4,284.1 377.7,284.1" fill="none" stroke="#46a678" stroke-width="1.5" stroke-linejoin="round"/>
<line x1="294.6" y1="212.5" x2="377.7" y2="212.5" stroke="#222" stroke-width="1.2"/>
<line x1="294.1" y1="287.5" x2="377.7" y2="287.5" stroke="#222" stroke-width="1.2"/>
<line x1="294.6" y1="212.5" x2="294.6" y2="287.5" stroke="#222" stroke-width="1.2"/>
<line x1="377.7" y1="212.5" x2="377.7" y2="288.2" stroke="#f0a050" stroke-width="1.2"/>
<line x1="294.6" y1="284.1" x2="295.9" y2="284.1" stroke="#222" stroke-width="0.9"/>
<text x="293" y="285.9" font-size="5.2" fill="#111" text-anchor="end" style="font-family:'Liberation Serif',serif;font-weight:bold">0</text>
<line x1="294.6" y1="270.5" x2="295.9" y2="270.5" stroke="#222" stroke-width="0.9"/>
<text x="293" y="272.3" font-size="5.2" fill="#111" text-anchor="end" style="font-family:'Liberation Serif',serif;font-weight:bold">20</text>
<line x1="294.6" y1="256.8" x2="295.9" y2="256.8" stroke="#222" stroke-width="0.9"/>
<text x="293" y="258.6" font-size="5.2" fill="#111" text-anchor="end" style="font-family:'Liberation Serif',serif;font-weight:bold">40</text>
<line x1="294.6" y1="243.2" x2="295.9" y2="243.2" stroke="#222" stroke-width="0.9"/>
<text x="293" y="245" font-size="5.2" fill="#111" text-anchor="end" style="font-family:'Liberation Serif',serif;font-weight:bold">60</text>
<line x1="294.6" y1="229.5" x2="295.9" y2="229.5" stroke="#222" stroke-width="0.9"/>
<text x="293" y="231.3" font-size="5.2" fill="#111" text-anchor="end" style="font-family:'Liberation Serif',serif;font-weight:bold">80</text>
<line x1="294.6" y1="215.9" x2="295.9" y2="215.9" stroke="#222" stroke-width="0.9"/>
<text x="293" y="217.7" font-size="5.2" fill="#111" text-anchor="end" style="font-family:'Liberation Serif',serif;font-weight:bold">100</text>
<line x1="376.4" y1="285" x2="377.7" y2="285" stroke="#f0953a" stroke-width="0.9"/>
<text x="380.3" y="286.8" font-size="5.2" fill="#f0953a" text-anchor="start" style="font-family:'Liberation Serif',serif;font-weight:bold">300</text>
<line x1="376.4" y1="275.6" x2="377.7" y2="275.6" stroke="#f0953a" stroke-width="0.9"/>
<text x="380.3" y="277.4" font-size="5.2" fill="#f0953a" text-anchor="start" style="font-family:'Liberation Serif',serif;font-weight:bold">400</text>
<line x1="376.4" y1="266.3" x2="377.7" y2="266.3" stroke="#f0953a" stroke-width="0.9"/>
<text x="380.3" y="268.1" font-size="5.2" fill="#f0953a" text-anchor="start" style="font-family:'Liberation Serif',serif;font-weight:bold">500</text>
<line x1="376.4" y1="256.9" x2="377.7" y2="256.9" stroke="#f0953a" stroke-width="0.9"/>
<text x="380.3" y="258.7" font-size="5.2" fill="#f0953a" text-anchor="start" style="font-family:'Liberation Serif',serif;font-weight:bold">600</text>
<line x1="376.4" y1="247.6" x2="377.7" y2="247.6" stroke="#f0953a" stroke-width="0.9"/>
<text x="380.3" y="249.4" font-size="5.2" fill="#f0953a" text-anchor="start" style="font-family:'Liberation Serif',serif;font-weight:bold">700</text>
<line x1="376.4" y1="238.2" x2="377.7" y2="238.2" stroke="#f0953a" stroke-width="0.9"/>
<text x="380.3" y="240" font-size="5.2" fill="#f0953a" text-anchor="start" style="font-family:'Liberation Serif',serif;font-weight:bold">800</text>
<line x1="376.4" y1="228.9" x2="377.7" y2="228.9" stroke="#f0953a" stroke-width="0.9"/>
<text x="380.3" y="230.7" font-size="5.2" fill="#f0953a" text-anchor="start" style="font-family:'Liberation Serif',serif;font-weight:bold">900</text>
<line x1="376.4" y1="219.5" x2="377.7" y2="219.5" stroke="#f0953a" stroke-width="0.9"/>
<text x="380.3" y="221.3" font-size="5.2" fill="#f0953a" text-anchor="start" style="font-family:'Liberation Serif',serif;font-weight:bold">1000</text>
<line x1="297.9" y1="287.5" x2="297.9" y2="286.2" stroke="#222" stroke-width="0.9"/>
<text x="297.9" y="294.1" font-size="5.2" fill="#111" text-anchor="middle" style="font-family:'Liberation Serif',serif;font-weight:bold">0</text>
<line x1="311.2" y1="287.5" x2="311.2" y2="286.2" stroke="#222" stroke-width="0.9"/>
<text x="311.2" y="294.1" font-size="5.2" fill="#111" text-anchor="middle" style="font-family:'Liberation Serif',serif;font-weight:bold">20</text>
<line x1="324.5" y1="287.5" x2="324.5" y2="286.2" stroke="#222" stroke-width="0.9"/>
<text x="324.5" y="294.1" font-size="5.2" fill="#111" text-anchor="middle" style="font-family:'Liberation Serif',serif;font-weight:bold">40</text>
<line x1="337.8" y1="287.5" x2="337.8" y2="286.2" stroke="#222" stroke-width="0.9"/>
<text x="337.8" y="294.1" font-size="5.2" fill="#111" text-anchor="middle" style="font-family:'Liberation Serif',serif;font-weight:bold">60</text>
<line x1="351.1" y1="287.5" x2="351.1" y2="286.2" stroke="#222" stroke-width="0.9"/>
<text x="351.1" y="294.1" font-size="5.2" fill="#111" text-anchor="middle" style="font-family:'Liberation Serif',serif;font-weight:bold">80</text>
<line x1="364.4" y1="287.5" x2="364.4" y2="286.2" stroke="#222" stroke-width="0.9"/>
<text x="364.4" y="294.1" font-size="5.2" fill="#111" text-anchor="middle" style="font-family:'Liberation Serif',serif;font-weight:bold">100</text>
<line x1="377.7" y1="287.5" x2="377.7" y2="286.2" stroke="#222" stroke-width="0.9"/>
<text x="377.7" y="294.1" font-size="5.2" fill="#111" text-anchor="middle" style="font-family:'Liberation Serif',serif;font-weight:bold">120</text>
<text x="283.4" y="250.5" font-size="7.2" fill="#111" text-anchor="middle" transform="rotate(-90 283.4 250.5)" style="font-family:'Liberation Serif',serif;font-weight:bold">Phase ratio [%]</text>
<text x="394.5" y="249.7" font-size="6.8" fill="#f0953a" text-anchor="middle" transform="rotate(-90 394.5 249.7)" style="font-family:'Liberation Serif',serif;font-weight:bold">Temperature [K]</text>
<text x="338.3" y="299" font-size="6.4" fill="#111" text-anchor="middle" style="font-family:'Liberation Serif',serif;font-weight:bold">Time [s]</text>
<text x="344.6" y="225.2" font-size="8.3" fill="#111" text-anchor="start" style="font-family:'Liberation Serif',serif;font-weight:bold">Y: 3%</text>
<polyline points="420.9,285 429.4,222.6 442.9,222.6 500.2,270.2" fill="none" stroke="#de8f58" stroke-width="1.2" stroke-linejoin="round" stroke-dasharray="3.6,1.3,1,1.3"/>
<polyline points="420.9,284.1 421.2,284.1 421.6,284.1 421.9,284.1 422.2,284.1 422.6,284.1 422.9,284.1 423.2,284.1 423.5,284.1 423.9,284.1 424.2,284.1 424.5,284.1 424.9,284.1 425.2,284.1 425.5,284.1 425.9,284.1 426.2,284.1 426.5,284.1 426.9,283.6 427.2,282.1 427.5,280 427.8,277.5 428.2,274.1 428.5,267.7 428.8,263.8 429.2,268.7 429.5,275.8 429.8,280.4 430.2,283.7 430.5,284.1 430.8,284.1 431.1,284.1 431.5,284.1 431.8,284.1 432.1,284.1 432.5,284.1 432.8,284.1 433.1,284.1 433.5,284.1 433.8,284.1 434.1,284.1 434.5,284.1 434.8,284.1 435.1,284.1 435.4,284.1 435.8,284.1 436.1,284.1 436.4,284.1 436.8,284.1 437.1,284.1 437.4,284.1 437.8,284.1 438.1,284.1 438.4,284.1 438.7,284.1 439.1,284.1 439.4,284.1 439.7,284.1 440.1,284.1 440.4,284.1 440.7,284.1 441.1,284.1 441.4,284.1 441.7,284.1 442,284.1 442.4,284.1 442.7,284.1 443,284.1 443.4,284.1 443.7,284.1 444,284.1 444.4,284.1 444.7,284.1 445,284.1 445.4,284.1 445.7,284.1 446,284.1 446.3,284.1 446.7,284.1 447,284.1 447.3,284.1 447.7,284.1 448,284.1 448.3,284.1 448.7,284.1 449,284.1 449.3,284.1 449.6,284.1 450,284.1 450.3,284.1 450.6,284.1 451,284.1 451.3,284.1 451.6,284.1 452,284.1 452.3,284.1 452.6,284.1 453,284.1 453.3,284.1 453.6,284.1 453.9,284.1 457.2,284.1 460.6,284.1 463.9,284.1 467.2,284.1 470.5,284.1 473.8,284.1 477.1,284.1 480.4,284.1 483.7,284.1 487,284.1 490.3,284.1 493.6,284.1 496.9,284.1 500.2,284.1" fill="none" stroke="#cc3d62" stroke-width="1" stroke-linejoin="round"/>
<polyline points="420.9,284.1 421.2,284.1 421.6,284.1 421.9,284.1 422.2,284.1 422.6,284.1 422.9,284.1 423.2,284.1 423.5,284.1 423.9,284.1 424.2,284.1 424.5,284.1 424.9,284.1 425.2,284.1 425.5,284.1 425.9,284.1 426.2,284.1 426.5,284.1 426.9,284.1 427.2,284.1 427.5,284.1 427.8,284.1 428.2,284.1 428.5,284.1 428.8,273.4 429.2,257.6 429.5,247.5 429.8,242.9 430.2,239.7 430.5,237.3 430.8,235.1 431.1,233.2 431.5,231.4 431.8,229.9 432.1,228.6 432.5,227.5 432.8,226.6 433.1,225.7 433.5,225 433.8,224.3 434.1,223.7 434.5,223.1 434.8,222.5 435.1,222.1 435.4,221.6 435.8,221.2 436.1,220.9 436.4,220.5 436.8,220.2 437.1,219.9 437.4,219.6 437.8,219.3 438.1,219 438.4,218.8 438.7,218.6 439.1,218.3 439.4,218.2 439.7,218 440.1,217.8 440.4,217.7 440.7,217.6 441.1,217.5 441.4,217.4 441.7,217.3 442,217.2 442.4,217.2 442.7,217.1 443,217 443.4,216.9 443.7,216.9 444,216.8 444.4,216.7 444.7,216.7 445,216.6 445.4,216.6 445.7,216.6 446,216.5 446.3,216.5 446.7,216.5 447,216.5 447.3,216.5 447.7,216.5 448,216.5 448.3,216.5 448.7,216.5 449,216.5 449.3,216.5 449.6,216.5 450,216.5 450.3,216.5 450.6,216.4 451,216.4 451.3,216.4 451.6,216.4 452,216.4 452.3,216.4 452.6,216.4 453,216.4 453.3,216.4 453.6,216.4 453.9,216.4 457.2,216.4 460.6,216.4 463.9,216.4 467.2,216.4 470.5,216.3 473.8,216.3 477.1,216.3 480.4,216.3 483.7,216.3 487,216.3 490.3,216.3 493.6,216.3 496.9,216.3 500.2,216.3" fill="none" stroke="#3a6cbc" stroke-width="1.3" stroke-linejoin="round"/>
<polyline points="420.9,216.5 421.2,216.5 421.6,216.5 421.9,216.5 422.2,216.5 422.6,216.5 422.9,216.5 423.2,216.5 423.5,216.5 423.9,216.5 424.2,216.5 424.5,216.5 424.9,216.5 425.2,216.5 425.5,216.5 425.9,216.5 426.2,216.5 426.5,217 426.9,218 427.2,219.3 427.5,221.3 427.8,225.7 428.2,230.3 428.5,234.6 428.8,238.7 429.2,242.2 429.5,245.4 429.8,248.4 430.2,251.6 430.5,255.2 430.8,258.7 431.1,261.9 431.5,264.7 431.8,267.5 432.1,269.9 432.5,271.9 432.8,273.3 433.1,274.5 433.5,275.6 433.8,276.5 434.1,277.4 434.5,278.1 434.8,278.7 435.1,279.2 435.4,279.7 435.8,280.1 436.1,280.5 436.4,280.9 436.8,281.2 437.1,281.5 437.4,281.8 437.8,282.1 438.1,282.3 438.4,282.5 438.7,282.6 439.1,282.8 439.4,282.9 439.7,283 440.1,283.1 440.4,283.3 440.7,283.4 441.1,283.5 441.4,283.6 441.7,283.7 442,283.7 442.4,283.8 442.7,283.8 443,283.9 443.4,283.9 443.7,283.9 444,283.9 444.4,283.9 444.7,283.9 445,283.9 445.4,283.9 445.7,283.9 446,283.9 446.3,283.9 446.7,283.9 447,283.9 447.3,283.9 447.7,283.9 448,283.9 448.3,283.9 448.7,283.9 449,283.9 449.3,283.9 449.6,283.9 450,283.9 450.3,283.9 450.6,283.9 451,283.9 451.3,283.9 451.6,283.9 452,283.9 452.3,283.9 452.6,283.9 453,283.9 453.3,283.9 453.6,283.9 453.9,283.9 457.2,283.9 460.6,284 463.9,284 467.2,284 470.5,284 473.8,284 477.1,284 480.4,284 483.7,284 487,284 490.3,284 493.6,284 496.9,284 500.2,284" fill="none" stroke="#3a3a3a" stroke-width="1.2" stroke-linejoin="round"/>
<polyline points="420.9,284.1 421.2,284.1 421.6,284.1 421.9,284.1 422.2,284.1 422.6,284.1 422.9,284.1 423.2,284.1 423.5,284.1 423.9,284.1 424.2,284.1 424.5,284.1 424.9,284.1 425.2,284.1 425.5,284.1 425.9,284.1 426.2,284.1 426.5,284.1 426.9,284.1 427.2,284.1 427.5,284.1 427.8,284.1 428.2,284.1 428.5,284.1 428.8,284.1 429.2,284.1 429.5,284.1 429.8,284.1 430.2,284.1 430.5,284.1 430.8,284.1 431.1,284.1 431.5,284.1 431.8,284.1 432.1,284.1 432.5,284.1 432.8,284.1 433.1,284.1 433.5,284.1 433.8,284.1 434.1,284.1 434.5,284.1 434.8,284.1 435.1,284.1 435.4,284.1 435.8,284.1 436.1,284.1 436.4,284.1 436.8,284.1 437.1,284.1 437.4,284.1 437.8,284.1 438.1,284.1 438.4,284.1 438.7,284.1 439.1,284.1 439.4,284.1 439.7,284.1 440.1,284.1 440.4,284.1 440.7,284.1 441.1,284.1 441.4,284.1 441.7,284.1 442,284.1 442.4,284.1 442.7,284.1 443,284.1 443.4,284.1 443.7,284.1 444,284.1 444.4,284.1 444.7,284.1 445,284.1 445.4,284.1 445.7,284.1 446,284.1 446.3,284.1 446.7,284.1 447,284.1 447.3,284.1 447.7,284.1 448,284.1 448.3,284.1 448.7,284.1 449,284.1 449.3,284.1 449.6,284.1 450,284.1 450.3,284.1 450.6,284.1 451,284.1 451.3,284.1 451.6,284.1 452,284.1 452.3,284.1 452.6,284.1 453,284.1 453.3,284.1 453.6,284.1 453.9,284.1 457.2,284.1 460.6,284.1 463.9,284.1 467.2,284.1 470.5,284.1 473.8,284.1 477.1,284.1 480.4,284.1 483.7,284.1 487,284.1 490.3,284.1 493.6,284.1 496.9,284.1 500.2,284.1" fill="none" stroke="#46a678" stroke-width="1.5" stroke-linejoin="round"/>
<line x1="417.6" y1="213.1" x2="500.2" y2="213.1" stroke="#222" stroke-width="1.2"/>
<line x1="417.1" y1="287.5" x2="500.2" y2="287.5" stroke="#222" stroke-width="1.2"/>
<line x1="417.6" y1="213.1" x2="417.6" y2="287.5" stroke="#222" stroke-width="1.2"/>
<line x1="500.2" y1="213.1" x2="500.2" y2="288.2" stroke="#f0a050" stroke-width="1.2"/>
<line x1="417.6" y1="284.1" x2="418.9" y2="284.1" stroke="#222" stroke-width="0.9"/>
<text x="416" y="285.9" font-size="5.2" fill="#111" text-anchor="end" style="font-family:'Liberation Serif',serif;font-weight:bold">0</text>
<line x1="417.6" y1="270.6" x2="418.9" y2="270.6" stroke="#222" stroke-width="0.9"/>
<text x="416" y="272.4" font-size="5.2" fill="#111" text-anchor="end" style="font-family:'Liberation Serif',serif;font-weight:bold">20</text>
<line x1="417.6" y1="257.1" x2="418.9" y2="257.1" stroke="#222" stroke-width="0.9"/>
<text x="416" y="258.9" font-size="5.2" fill="#111" text-anchor="end" style="font-family:'Liberation Serif',serif;font-weight:bold">40</text>
<line x1="417.6" y1="243.5" x2="418.9" y2="243.5" stroke="#222" stroke-width="0.9"/>
<text x="416" y="245.3" font-size="5.2" fill="#111" text-anchor="end" style="font-family:'Liberation Serif',serif;font-weight:bold">60</text>
<line x1="417.6" y1="230" x2="418.9" y2="230" stroke="#222" stroke-width="0.9"/>
<text x="416" y="231.8" font-size="5.2" fill="#111" text-anchor="end" style="font-family:'Liberation Serif',serif;font-weight:bold">80</text>
<line x1="417.6" y1="216.5" x2="418.9" y2="216.5" stroke="#222" stroke-width="0.9"/>
<text x="416" y="218.3" font-size="5.2" fill="#111" text-anchor="end" style="font-family:'Liberation Serif',serif;font-weight:bold">100</text>
<line x1="498.9" y1="285" x2="500.2" y2="285" stroke="#f0953a" stroke-width="0.9"/>
<text x="502.8" y="286.8" font-size="5.2" fill="#f0953a" text-anchor="start" style="font-family:'Liberation Serif',serif;font-weight:bold">300</text>
<line x1="498.9" y1="275.7" x2="500.2" y2="275.7" stroke="#f0953a" stroke-width="0.9"/>
<text x="502.8" y="277.5" font-size="5.2" fill="#f0953a" text-anchor="start" style="font-family:'Liberation Serif',serif;font-weight:bold">400</text>
<line x1="498.9" y1="266.4" x2="500.2" y2="266.4" stroke="#f0953a" stroke-width="0.9"/>
<text x="502.8" y="268.2" font-size="5.2" fill="#f0953a" text-anchor="start" style="font-family:'Liberation Serif',serif;font-weight:bold">500</text>
<line x1="498.9" y1="257.2" x2="500.2" y2="257.2" stroke="#f0953a" stroke-width="0.9"/>
<text x="502.8" y="259" font-size="5.2" fill="#f0953a" text-anchor="start" style="font-family:'Liberation Serif',serif;font-weight:bold">600</text>
<line x1="498.9" y1="247.9" x2="500.2" y2="247.9" stroke="#f0953a" stroke-width="0.9"/>
<text x="502.8" y="249.7" font-size="5.2" fill="#f0953a" text-anchor="start" style="font-family:'Liberation Serif',serif;font-weight:bold">700</text>
<line x1="498.9" y1="238.6" x2="500.2" y2="238.6" stroke="#f0953a" stroke-width="0.9"/>
<text x="502.8" y="240.4" font-size="5.2" fill="#f0953a" text-anchor="start" style="font-family:'Liberation Serif',serif;font-weight:bold">800</text>
<line x1="498.9" y1="229.3" x2="500.2" y2="229.3" stroke="#f0953a" stroke-width="0.9"/>
<text x="502.8" y="231.1" font-size="5.2" fill="#f0953a" text-anchor="start" style="font-family:'Liberation Serif',serif;font-weight:bold">900</text>
<line x1="498.9" y1="220.1" x2="500.2" y2="220.1" stroke="#f0953a" stroke-width="0.9"/>
<text x="502.8" y="221.9" font-size="5.2" fill="#f0953a" text-anchor="start" style="font-family:'Liberation Serif',serif;font-weight:bold">1000</text>
<line x1="420.9" y1="287.5" x2="420.9" y2="286.2" stroke="#222" stroke-width="0.9"/>
<text x="420.9" y="294.1" font-size="5.2" fill="#111" text-anchor="middle" style="font-family:'Liberation Serif',serif;font-weight:bold">0</text>
<line x1="434.1" y1="287.5" x2="434.1" y2="286.2" stroke="#222" stroke-width="0.9"/>
<text x="434.1" y="294.1" font-size="5.2" fill="#111" text-anchor="middle" style="font-family:'Liberation Serif',serif;font-weight:bold">20</text>
<line x1="447.3" y1="287.5" x2="447.3" y2="286.2" stroke="#222" stroke-width="0.9"/>
<text x="447.3" y="294.1" font-size="5.2" fill="#111" text-anchor="middle" style="font-family:'Liberation Serif',serif;font-weight:bold">40</text>
<line x1="460.6" y1="287.5" x2="460.6" y2="286.2" stroke="#222" stroke-width="0.9"/>
<text x="460.6" y="294.1" font-size="5.2" fill="#111" text-anchor="middle" style="font-family:'Liberation Serif',serif;font-weight:bold">60</text>
<line x1="473.8" y1="287.5" x2="473.8" y2="286.2" stroke="#222" stroke-width="0.9"/>
<text x="473.8" y="294.1" font-size="5.2" fill="#111" text-anchor="middle" style="font-family:'Liberation Serif',serif;font-weight:bold">80</text>
<line x1="487" y1="287.5" x2="487" y2="286.2" stroke="#222" stroke-width="0.9"/>
<text x="487" y="294.1" font-size="5.2" fill="#111" text-anchor="middle" style="font-family:'Liberation Serif',serif;font-weight:bold">100</text>
<line x1="500.2" y1="287.5" x2="500.2" y2="286.2" stroke="#222" stroke-width="0.9"/>
<text x="500.2" y="294.1" font-size="5.2" fill="#111" text-anchor="middle" style="font-family:'Liberation Serif',serif;font-weight:bold">120</text>
<text x="406.4" y="250.8" font-size="7.2" fill="#111" text-anchor="middle" transform="rotate(-90 406.4 250.8)" style="font-family:'Liberation Serif',serif;font-weight:bold">Phase ratio [%]</text>
<text x="517" y="250" font-size="6.8" fill="#f0953a" text-anchor="middle" transform="rotate(-90 517 250)" style="font-family:'Liberation Serif',serif;font-weight:bold">Temperature [K]</text>
<text x="461.1" y="299" font-size="6.4" fill="#111" text-anchor="middle" style="font-family:'Liberation Serif',serif;font-weight:bold">Time [s]</text>
<text x="466.5" y="225.2" font-size="8.3" fill="#111" text-anchor="start" style="font-family:'Liberation Serif',serif;font-weight:bold">Y: 7%</text>
<text x="142" y="12.4" font-size="14" fill="#111" text-anchor="start" style="font-family:'Liberation Serif',serif;font-weight:bold">(b)</text>
<text x="142" y="116.1" font-size="14" fill="#111" text-anchor="start" style="font-family:'Liberation Serif',serif;font-weight:bold">(d)</text>
<text x="143" y="219.1" font-size="14" fill="#111" text-anchor="start" style="font-family:'Liberation Serif',serif;font-weight:bold">(f)</text></svg>
</body></html>
